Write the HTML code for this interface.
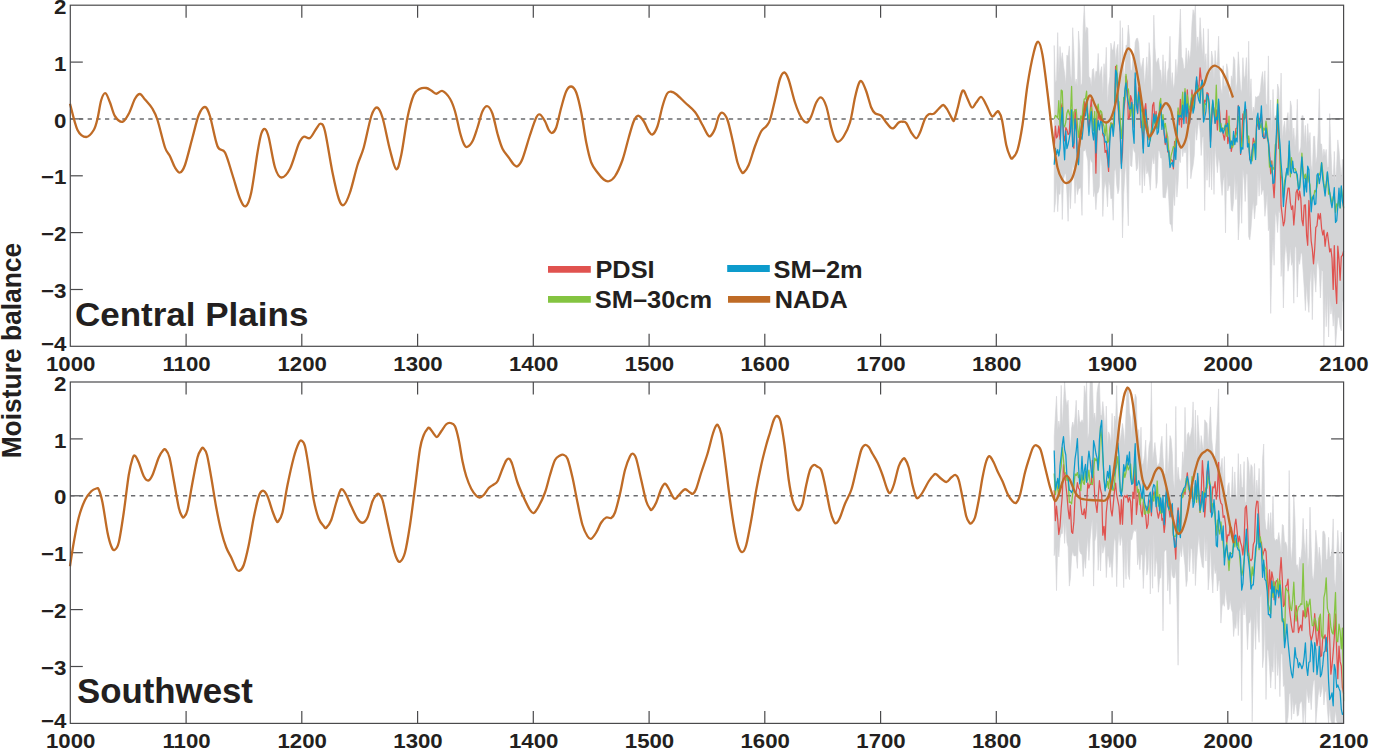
<!DOCTYPE html>
<html><head><meta charset="utf-8"><title>Moisture balance</title>
<style>html,body{margin:0;padding:0;background:#fff;overflow:hidden}body{width:1400px;height:749px}svg{display:block}</style></head>
<body>
<svg width="1400" height="749" viewBox="0 0 1400 749">
<style>text{font-family:"Liberation Sans",sans-serif;font-weight:bold;fill:#231f20}.tk{font-size:20.5px}.lg{font-size:24px}.ti{font-size:34px}.yl{font-size:26.4px}</style>
<rect width="1400" height="749" fill="#fff"/>
<line x1="186.1" y1="346.3" x2="186.1" y2="333.8" stroke="#4a4a4c" stroke-width="1.2"/>
<line x1="186.1" y1="5.2" x2="186.1" y2="17.7" stroke="#4a4a4c" stroke-width="1.2"/>
<line x1="301.8" y1="346.3" x2="301.8" y2="333.8" stroke="#4a4a4c" stroke-width="1.2"/>
<line x1="301.8" y1="5.2" x2="301.8" y2="17.7" stroke="#4a4a4c" stroke-width="1.2"/>
<line x1="417.6" y1="346.3" x2="417.6" y2="333.8" stroke="#4a4a4c" stroke-width="1.2"/>
<line x1="417.6" y1="5.2" x2="417.6" y2="17.7" stroke="#4a4a4c" stroke-width="1.2"/>
<line x1="533.3" y1="346.3" x2="533.3" y2="333.8" stroke="#4a4a4c" stroke-width="1.2"/>
<line x1="533.3" y1="5.2" x2="533.3" y2="17.7" stroke="#4a4a4c" stroke-width="1.2"/>
<line x1="649.1" y1="346.3" x2="649.1" y2="333.8" stroke="#4a4a4c" stroke-width="1.2"/>
<line x1="649.1" y1="5.2" x2="649.1" y2="17.7" stroke="#4a4a4c" stroke-width="1.2"/>
<line x1="764.8" y1="346.3" x2="764.8" y2="333.8" stroke="#4a4a4c" stroke-width="1.2"/>
<line x1="764.8" y1="5.2" x2="764.8" y2="17.7" stroke="#4a4a4c" stroke-width="1.2"/>
<line x1="880.6" y1="346.3" x2="880.6" y2="333.8" stroke="#4a4a4c" stroke-width="1.2"/>
<line x1="880.6" y1="5.2" x2="880.6" y2="17.7" stroke="#4a4a4c" stroke-width="1.2"/>
<line x1="996.3" y1="346.3" x2="996.3" y2="333.8" stroke="#4a4a4c" stroke-width="1.2"/>
<line x1="996.3" y1="5.2" x2="996.3" y2="17.7" stroke="#4a4a4c" stroke-width="1.2"/>
<line x1="1112.1" y1="346.3" x2="1112.1" y2="333.8" stroke="#4a4a4c" stroke-width="1.2"/>
<line x1="1112.1" y1="5.2" x2="1112.1" y2="17.7" stroke="#4a4a4c" stroke-width="1.2"/>
<line x1="1227.8" y1="346.3" x2="1227.8" y2="333.8" stroke="#4a4a4c" stroke-width="1.2"/>
<line x1="1227.8" y1="5.2" x2="1227.8" y2="17.7" stroke="#4a4a4c" stroke-width="1.2"/>
<line x1="70.3" y1="289.5" x2="82.8" y2="289.5" stroke="#4a4a4c" stroke-width="1.2"/>
<line x1="1343.6" y1="289.5" x2="1331.1" y2="289.5" stroke="#4a4a4c" stroke-width="1.2"/>
<line x1="70.3" y1="232.6" x2="82.8" y2="232.6" stroke="#4a4a4c" stroke-width="1.2"/>
<line x1="1343.6" y1="232.6" x2="1331.1" y2="232.6" stroke="#4a4a4c" stroke-width="1.2"/>
<line x1="70.3" y1="175.8" x2="82.8" y2="175.8" stroke="#4a4a4c" stroke-width="1.2"/>
<line x1="1343.6" y1="175.8" x2="1331.1" y2="175.8" stroke="#4a4a4c" stroke-width="1.2"/>
<line x1="70.3" y1="118.9" x2="82.8" y2="118.9" stroke="#4a4a4c" stroke-width="1.2"/>
<line x1="1343.6" y1="118.9" x2="1331.1" y2="118.9" stroke="#4a4a4c" stroke-width="1.2"/>
<line x1="70.3" y1="62.1" x2="82.8" y2="62.1" stroke="#4a4a4c" stroke-width="1.2"/>
<line x1="1343.6" y1="62.1" x2="1331.1" y2="62.1" stroke="#4a4a4c" stroke-width="1.2"/>
<path d="M1054.2,45.5 L1055.4,82.9 L1056.5,79.7 L1057.7,32.6 L1058.8,74.3 L1060.0,46.5 L1061.2,61.9 L1062.3,52.7 L1063.5,65.6 L1064.6,73.1 L1065.8,84.6 L1066.9,55.1 L1068.1,56.5 L1069.3,45.9 L1070.4,73.3 L1071.6,81.9 L1072.7,27.7 L1073.9,51.9 L1075.0,84.8 L1076.2,79.0 L1077.4,87.2 L1078.5,31.1 L1079.7,47.4 L1080.8,85.8 L1082.0,83.2 L1083.2,26.6 L1084.3,5.2 L1085.5,34.1 L1086.6,27.2 L1087.8,28.2 L1088.9,76.3 L1090.1,78.0 L1091.3,86.7 L1092.4,69.6 L1093.6,68.4 L1094.7,82.0 L1095.9,71.2 L1097.0,72.0 L1098.2,53.4 L1099.4,77.4 L1100.5,71.7 L1101.7,66.6 L1102.8,94.8 L1104.0,63.7 L1105.1,75.8 L1106.3,47.3 L1107.5,105.4 L1108.6,86.2 L1109.8,76.6 L1110.9,43.1 L1112.1,50.3 L1113.2,49.5 L1114.4,41.4 L1115.6,61.7 L1116.7,49.3 L1117.9,44.3 L1119.0,75.4 L1120.2,20.6 L1121.4,81.2 L1122.5,27.7 L1123.7,77.7 L1124.8,72.6 L1126.0,45.5 L1127.1,44.4 L1128.3,25.0 L1129.5,38.2 L1130.6,69.6 L1131.8,71.0 L1132.9,57.0 L1134.1,62.9 L1135.2,42.3 L1136.4,38.6 L1137.6,38.2 L1138.7,43.2 L1139.9,61.3 L1141.0,69.5 L1142.2,63.8 L1143.3,58.0 L1144.5,85.6 L1145.7,72.9 L1146.8,56.9 L1148.0,78.1 L1149.1,42.6 L1150.3,58.2 L1151.4,93.6 L1152.6,88.2 L1153.8,15.2 L1154.9,47.1 L1156.1,63.4 L1157.2,61.0 L1158.4,57.9 L1159.6,69.2 L1160.7,70.4 L1161.9,84.9 L1163.0,54.8 L1164.2,82.3 L1165.3,61.3 L1166.5,89.0 L1167.7,71.3 L1168.8,67.2 L1170.0,36.3 L1171.1,86.5 L1172.3,72.6 L1173.4,89.1 L1174.6,83.0 L1175.8,59.4 L1176.9,76.8 L1178.1,60.8 L1179.2,36.7 L1180.4,9.0 L1181.5,56.6 L1182.7,59.3 L1183.9,69.1 L1185.0,67.9 L1186.2,47.9 L1187.3,65.5 L1188.5,50.6 L1189.6,61.1 L1190.8,50.0 L1192.0,23.2 L1193.1,9.7 L1194.3,15.7 L1195.4,5.2 L1196.6,51.9 L1197.7,36.9 L1198.9,48.1 L1200.1,17.7 L1201.2,36.6 L1202.4,57.6 L1203.5,28.4 L1204.7,63.1 L1205.9,53.7 L1207.0,76.6 L1208.2,28.8 L1209.3,72.4 L1210.5,71.7 L1211.6,51.0 L1212.8,58.5 L1214.0,79.7 L1215.1,50.5 L1216.3,66.3 L1217.4,61.3 L1218.6,36.2 L1219.7,74.1 L1220.9,88.5 L1222.1,93.9 L1223.2,65.7 L1224.4,86.3 L1225.5,86.2 L1226.7,63.8 L1227.8,69.5 L1229.0,92.5 L1230.2,99.6 L1231.3,75.8 L1232.5,80.4 L1233.6,56.7 L1234.8,60.2 L1235.9,92.8 L1237.1,82.1 L1238.3,51.8 L1239.4,69.4 L1240.6,89.0 L1241.7,92.4 L1242.9,57.7 L1244.1,79.6 L1245.2,75.3 L1246.4,57.6 L1247.5,94.3 L1248.7,41.2 L1249.8,97.9 L1251.0,78.8 L1252.2,115.4 L1253.3,107.0 L1254.5,111.2 L1255.6,96.6 L1256.8,97.5 L1257.9,96.2 L1259.1,96.1 L1260.3,91.3 L1261.4,78.9 L1262.6,71.6 L1263.7,89.3 L1264.9,70.8 L1266.0,103.3 L1267.2,105.6 L1268.4,55.9 L1269.5,124.1 L1270.7,99.9 L1271.8,133.0 L1273.0,89.4 L1274.1,118.4 L1275.3,116.3 L1276.5,114.8 L1277.6,84.0 L1278.8,89.0 L1279.9,115.7 L1281.1,73.0 L1282.3,139.5 L1283.4,128.1 L1284.6,121.1 L1285.7,135.9 L1286.9,118.3 L1288.0,112.5 L1289.2,133.2 L1290.4,100.9 L1291.5,106.4 L1292.7,140.4 L1293.8,128.0 L1295.0,147.1 L1296.1,134.4 L1297.3,99.3 L1298.5,153.6 L1299.6,151.6 L1300.8,147.1 L1301.9,115.8 L1303.1,115.7 L1304.2,142.0 L1305.4,125.4 L1306.6,148.3 L1307.7,123.6 L1308.9,142.5 L1310.0,132.5 L1311.2,165.0 L1312.3,172.2 L1313.5,136.4 L1314.7,136.3 L1315.8,163.5 L1317.0,156.2 L1318.1,133.6 L1319.3,88.8 L1320.4,143.3 L1321.6,144.2 L1322.8,158.5 L1323.9,149.1 L1325.1,156.1 L1326.2,149.4 L1327.4,167.4 L1328.6,166.7 L1329.7,113.6 L1330.9,151.0 L1332.0,173.3 L1333.2,179.7 L1334.3,151.4 L1335.5,183.8 L1336.7,164.8 L1337.8,139.9 L1339.0,150.6 L1340.1,164.4 L1341.3,178.5 L1342.4,159.3 L1343.6,176.9 L1343.6,301.7 L1342.4,301.3 L1341.3,330.8 L1340.1,326.7 L1339.0,317.3 L1337.8,317.4 L1336.7,330.5 L1335.5,346.3 L1334.3,311.2 L1333.2,326.1 L1332.0,304.9 L1330.9,314.1 L1329.7,296.1 L1328.6,337.0 L1327.4,292.8 L1326.2,326.7 L1325.1,294.7 L1323.9,346.3 L1322.8,271.4 L1321.6,270.2 L1320.4,298.0 L1319.3,271.0 L1318.1,259.9 L1317.0,265.1 L1315.8,292.1 L1314.7,278.4 L1313.5,270.2 L1312.3,319.7 L1311.2,268.8 L1310.0,282.8 L1308.9,312.4 L1307.7,300.3 L1306.6,284.7 L1305.4,310.6 L1304.2,287.5 L1303.1,270.9 L1301.9,252.8 L1300.8,253.7 L1299.6,264.3 L1298.5,259.4 L1297.3,297.1 L1296.1,247.8 L1295.0,246.2 L1293.8,303.2 L1292.7,261.2 L1291.5,265.3 L1290.4,246.6 L1289.2,263.2 L1288.0,271.2 L1286.9,253.4 L1285.7,243.2 L1284.6,259.4 L1283.4,308.0 L1282.3,255.0 L1281.1,276.4 L1279.9,213.2 L1278.8,210.8 L1277.6,232.5 L1276.5,217.4 L1275.3,211.8 L1274.1,265.3 L1273.0,238.0 L1271.8,265.7 L1270.7,313.4 L1269.5,227.7 L1268.4,230.7 L1267.2,193.2 L1266.0,206.4 L1264.9,216.3 L1263.7,190.2 L1262.6,190.0 L1261.4,194.6 L1260.3,173.1 L1259.1,196.2 L1257.9,173.4 L1256.8,204.5 L1255.6,206.3 L1254.5,218.9 L1253.3,201.0 L1252.2,210.7 L1251.0,228.3 L1249.8,239.8 L1248.7,236.4 L1247.5,174.8 L1246.4,173.6 L1245.2,201.5 L1244.1,180.0 L1242.9,168.4 L1241.7,223.3 L1240.6,184.9 L1239.4,220.3 L1238.3,240.0 L1237.1,181.1 L1235.9,199.5 L1234.8,172.9 L1233.6,201.3 L1232.5,211.3 L1231.3,210.1 L1230.2,185.9 L1229.0,185.6 L1227.8,190.9 L1226.7,169.7 L1225.5,232.9 L1224.4,175.9 L1223.2,180.8 L1222.1,195.4 L1220.9,182.3 L1219.7,163.1 L1218.6,157.3 L1217.4,172.7 L1216.3,159.6 L1215.1,145.2 L1214.0,194.4 L1212.8,147.3 L1211.6,189.8 L1210.5,151.8 L1209.3,187.3 L1208.2,152.9 L1207.0,180.3 L1205.9,148.6 L1204.7,210.6 L1203.5,136.7 L1202.4,137.3 L1201.2,155.5 L1200.1,132.0 L1198.9,118.9 L1197.7,129.2 L1196.6,140.2 L1195.4,125.6 L1194.3,155.2 L1193.1,165.4 L1192.0,170.7 L1190.8,178.7 L1189.6,141.1 L1188.5,136.6 L1187.3,188.6 L1186.2,148.6 L1185.0,153.1 L1183.9,148.5 L1182.7,156.6 L1181.5,141.2 L1180.4,162.6 L1179.2,159.5 L1178.1,182.3 L1176.9,197.1 L1175.8,174.0 L1174.6,205.6 L1173.4,192.6 L1172.3,231.6 L1171.1,224.5 L1170.0,224.0 L1168.8,199.8 L1167.7,182.8 L1166.5,190.1 L1165.3,198.0 L1164.2,197.5 L1163.0,197.6 L1161.9,158.2 L1160.7,158.0 L1159.6,151.4 L1158.4,150.4 L1157.2,182.5 L1156.1,188.3 L1154.9,153.1 L1153.8,163.9 L1152.6,156.3 L1151.4,169.3 L1150.3,190.2 L1149.1,177.3 L1148.0,170.3 L1146.8,173.8 L1145.7,161.1 L1144.5,185.8 L1143.3,162.9 L1142.2,193.1 L1141.0,150.8 L1139.9,185.4 L1138.7,153.4 L1137.6,167.9 L1136.4,170.8 L1135.2,153.1 L1134.1,151.1 L1132.9,146.3 L1131.8,166.7 L1130.6,165.8 L1129.5,144.1 L1128.3,225.8 L1127.1,193.6 L1126.0,157.3 L1124.8,175.7 L1123.7,194.7 L1122.5,237.9 L1121.4,172.9 L1120.2,160.6 L1119.0,189.5 L1117.9,193.8 L1116.7,185.1 L1115.6,168.3 L1114.4,171.6 L1113.2,220.3 L1112.1,198.1 L1110.9,198.8 L1109.8,185.5 L1108.6,180.8 L1107.5,206.8 L1106.3,187.9 L1105.1,180.5 L1104.0,190.0 L1102.8,216.5 L1101.7,166.4 L1100.5,155.3 L1099.4,186.5 L1098.2,192.4 L1097.0,193.5 L1095.9,209.7 L1094.7,189.9 L1093.6,196.6 L1092.4,163.0 L1091.3,161.3 L1090.1,158.0 L1088.9,194.7 L1087.8,160.9 L1086.6,155.0 L1085.5,148.5 L1084.3,151.0 L1083.2,151.3 L1082.0,215.4 L1080.8,187.6 L1079.7,188.0 L1078.5,189.5 L1077.4,194.6 L1076.2,181.2 L1075.0,203.4 L1073.9,168.4 L1072.7,163.6 L1071.6,183.0 L1070.4,208.7 L1069.3,181.6 L1068.1,221.3 L1066.9,193.5 L1065.8,173.0 L1064.6,175.0 L1063.5,179.3 L1062.3,219.5 L1061.2,171.2 L1060.0,194.4 L1058.8,193.5 L1057.7,211.7 L1056.5,181.0 L1055.4,202.7 L1054.2,212.2Z" fill="#d3d4d6" stroke="#d3d4d6" stroke-width="0.6" stroke-linejoin="miter"/>
<line x1="70.3" y1="118.9" x2="1343.6" y2="118.9" stroke="#6a6b6e" stroke-width="1.5" stroke-dasharray="4.3,4.365"/>
<path d="M1054.2,148.2 L1055.4,126.2 L1056.5,137.9 L1057.7,135.9 L1058.8,126.0 L1060.0,139.1 L1061.2,107.2 L1062.3,103.3 L1063.5,135.3 L1064.6,140.9 L1065.8,127.6 L1066.9,129.7 L1068.1,134.5 L1069.3,133.5 L1070.4,110.8 L1071.6,112.5 L1072.7,145.4 L1073.9,148.2 L1075.0,109.5 L1076.2,120.4 L1077.4,155.7 L1078.5,162.5 L1079.7,130.5 L1080.8,132.7 L1082.0,120.8 L1083.2,112.0 L1084.3,101.6 L1085.5,110.9 L1086.6,101.2 L1087.8,119.0 L1088.9,131.7 L1090.1,111.3 L1091.3,99.2 L1092.4,119.4 L1093.6,129.3 L1094.7,119.8 L1095.9,173.2 L1097.0,133.1 L1098.2,114.3 L1099.4,118.5 L1100.5,120.3 L1101.7,114.0 L1102.8,134.8 L1104.0,137.2 L1105.1,152.4 L1106.3,150.4 L1107.5,158.8 L1108.6,171.4 L1109.8,129.9 L1110.9,123.2 L1112.1,123.4 L1113.2,128.5 L1114.4,115.4 L1115.6,66.3 L1116.7,75.2 L1117.9,103.2 L1119.0,119.6 L1120.2,131.6 L1121.4,163.9 L1122.5,152.6 L1123.7,110.9 L1124.8,101.4 L1126.0,76.3 L1127.1,81.6 L1128.3,119.1 L1129.5,117.2 L1130.6,95.6 L1131.8,99.8 L1132.9,112.4 L1134.1,127.3 L1135.2,79.0 L1136.4,100.0 L1137.6,113.6 L1138.7,87.6 L1139.9,101.1 L1141.0,127.7 L1142.2,121.4 L1143.3,148.5 L1144.5,110.3 L1145.7,103.6 L1146.8,119.9 L1148.0,128.2 L1149.1,139.6 L1150.3,134.8 L1151.4,131.2 L1152.6,105.4 L1153.8,102.5 L1154.9,121.7 L1156.1,111.3 L1157.2,126.9 L1158.4,128.7 L1159.6,113.0 L1160.7,105.0 L1161.9,123.7 L1163.0,117.9 L1164.2,134.5 L1165.3,144.5 L1166.5,131.5 L1167.7,152.0 L1168.8,150.5 L1170.0,160.8 L1171.1,159.7 L1172.3,160.3 L1173.4,168.8 L1174.6,141.4 L1175.8,151.6 L1176.9,130.1 L1178.1,111.4 L1179.2,124.8 L1180.4,99.3 L1181.5,127.1 L1182.7,106.7 L1183.9,117.1 L1185.0,91.4 L1186.2,123.2 L1187.3,89.8 L1188.5,111.6 L1189.6,123.5 L1190.8,109.3 L1192.0,90.0 L1193.1,105.9 L1194.3,107.4 L1195.4,91.0 L1196.6,79.5 L1197.7,85.8 L1198.9,88.1 L1200.1,67.9 L1201.2,80.0 L1202.4,83.1 L1203.5,118.3 L1204.7,100.2 L1205.9,101.4 L1207.0,92.6 L1208.2,93.8 L1209.3,110.4 L1210.5,141.7 L1211.6,122.2 L1212.8,103.5 L1214.0,109.4 L1215.1,123.1 L1216.3,109.8 L1217.4,130.0 L1218.6,101.4 L1219.7,112.4 L1220.9,129.3 L1222.1,128.2 L1223.2,134.4 L1224.4,140.2 L1225.5,131.9 L1226.7,110.3 L1227.8,143.6 L1229.0,137.3 L1230.2,140.8 L1231.3,151.4 L1232.5,144.4 L1233.6,140.3 L1234.8,141.3 L1235.9,128.5 L1237.1,128.0 L1238.3,105.5 L1239.4,111.5 L1240.6,154.4 L1241.7,137.9 L1242.9,113.9 L1244.1,119.3 L1245.2,117.9 L1246.4,109.6 L1247.5,137.7 L1248.7,138.0 L1249.8,159.5 L1251.0,161.2 L1252.2,151.0 L1253.3,138.2 L1254.5,142.5 L1255.6,148.9 L1256.8,119.3 L1257.9,125.5 L1259.1,129.3 L1260.3,117.3 L1261.4,113.6 L1262.6,127.8 L1263.7,138.5 L1264.9,138.1 L1266.0,127.5 L1267.2,138.1 L1268.4,141.7 L1269.5,152.1 L1270.7,173.8 L1271.8,160.9 L1273.0,183.1 L1274.1,197.6 L1275.3,173.9 L1276.5,136.6 L1277.6,115.1 L1278.8,148.6 L1279.9,149.4 L1281.1,205.9 L1282.3,216.0 L1283.4,225.8 L1284.6,221.4 L1285.7,206.0 L1286.9,196.3 L1288.0,188.1 L1289.2,188.1 L1290.4,203.0 L1291.5,209.5 L1292.7,205.8 L1293.8,225.0 L1295.0,210.1 L1296.1,192.5 L1297.3,189.4 L1298.5,199.8 L1299.6,191.0 L1300.8,198.3 L1301.9,219.9 L1303.1,225.6 L1304.2,205.4 L1305.4,204.8 L1306.6,235.1 L1307.7,245.3 L1308.9,200.5 L1310.0,218.7 L1311.2,241.1 L1312.3,248.8 L1313.5,263.8 L1314.7,249.0 L1315.8,227.4 L1317.0,225.8 L1318.1,213.7 L1319.3,219.1 L1320.4,213.5 L1321.6,228.5 L1322.8,235.0 L1323.9,230.1 L1325.1,246.3 L1326.2,236.5 L1327.4,232.5 L1328.6,242.5 L1329.7,251.9 L1330.9,248.7 L1332.0,258.1 L1333.2,289.4 L1334.3,245.6 L1335.5,284.3 L1336.7,303.5 L1337.8,246.2 L1339.0,259.4 L1340.1,280.3 L1341.3,256.7 L1342.4,255.3 L1343.6,250.9" fill="none" stroke="#e0524f" stroke-width="1.25" stroke-linejoin="round"/>
<path d="M1054.2,118.9 L1055.4,115.4 L1056.5,116.3 L1057.7,118.2 L1058.8,100.7 L1060.0,125.5 L1061.2,90.1 L1062.3,90.9 L1063.5,125.2 L1064.6,126.8 L1065.8,122.0 L1066.9,113.3 L1068.1,109.7 L1069.3,113.9 L1070.4,116.0 L1071.6,86.4 L1072.7,129.1 L1073.9,111.9 L1075.0,110.8 L1076.2,109.3 L1077.4,124.5 L1078.5,137.3 L1079.7,127.3 L1080.8,115.8 L1082.0,119.0 L1083.2,105.4 L1084.3,98.8 L1085.5,98.9 L1086.6,91.2 L1087.8,113.2 L1088.9,119.0 L1090.1,117.1 L1091.3,107.2 L1092.4,115.4 L1093.6,130.6 L1094.7,111.4 L1095.9,141.8 L1097.0,110.3 L1098.2,104.2 L1099.4,116.3 L1100.5,110.5 L1101.7,112.2 L1102.8,122.8 L1104.0,126.2 L1105.1,135.8 L1106.3,122.8 L1107.5,142.7 L1108.6,141.1 L1109.8,131.0 L1110.9,122.8 L1112.1,125.0 L1113.2,128.0 L1114.4,110.7 L1115.6,82.9 L1116.7,65.1 L1117.9,100.1 L1119.0,101.9 L1120.2,119.7 L1121.4,138.4 L1122.5,125.7 L1123.7,97.5 L1124.8,99.9 L1126.0,74.4 L1127.1,89.0 L1128.3,88.9 L1129.5,100.1 L1130.6,116.2 L1131.8,106.6 L1132.9,104.6 L1134.1,123.2 L1135.2,86.7 L1136.4,99.4 L1137.6,103.0 L1138.7,92.8 L1139.9,98.9 L1141.0,108.3 L1142.2,113.4 L1143.3,131.2 L1144.5,116.6 L1145.7,115.4 L1146.8,122.2 L1148.0,130.1 L1149.1,137.8 L1150.3,140.8 L1151.4,130.5 L1152.6,126.2 L1153.8,117.0 L1154.9,124.1 L1156.1,114.5 L1157.2,128.0 L1158.4,127.8 L1159.6,103.2 L1160.7,98.3 L1161.9,125.3 L1163.0,114.6 L1164.2,128.3 L1165.3,123.3 L1166.5,132.0 L1167.7,137.0 L1168.8,151.0 L1170.0,164.4 L1171.1,155.7 L1172.3,151.2 L1173.4,146.5 L1174.6,148.6 L1175.8,138.8 L1176.9,137.1 L1178.1,107.9 L1179.2,117.0 L1180.4,114.9 L1181.5,108.2 L1182.7,92.2 L1183.9,118.9 L1185.0,88.6 L1186.2,110.5 L1187.3,94.9 L1188.5,105.5 L1189.6,109.8 L1190.8,101.5 L1192.0,94.5 L1193.1,111.0 L1194.3,96.5 L1195.4,95.2 L1196.6,85.4 L1197.7,85.6 L1198.9,90.8 L1200.1,99.8 L1201.2,85.7 L1202.4,87.6 L1203.5,115.5 L1204.7,103.8 L1205.9,104.6 L1207.0,96.7 L1208.2,100.6 L1209.3,110.0 L1210.5,131.2 L1211.6,110.7 L1212.8,101.7 L1214.0,111.9 L1215.1,118.0 L1216.3,85.1 L1217.4,118.5 L1218.6,113.1 L1219.7,131.3 L1220.9,123.4 L1222.1,131.2 L1223.2,128.8 L1224.4,127.6 L1225.5,123.8 L1226.7,136.3 L1227.8,133.9 L1229.0,116.2 L1230.2,141.5 L1231.3,145.9 L1232.5,147.6 L1233.6,144.1 L1234.8,135.7 L1235.9,135.3 L1237.1,131.0 L1238.3,116.1 L1239.4,119.5 L1240.6,142.4 L1241.7,149.1 L1242.9,131.6 L1244.1,111.4 L1245.2,110.2 L1246.4,119.1 L1247.5,138.7 L1248.7,136.0 L1249.8,156.9 L1251.0,157.6 L1252.2,160.8 L1253.3,149.9 L1254.5,141.9 L1255.6,157.6 L1256.8,118.8 L1257.9,123.7 L1259.1,121.3 L1260.3,127.8 L1261.4,123.6 L1262.6,134.3 L1263.7,128.2 L1264.9,130.3 L1266.0,121.1 L1267.2,130.3 L1268.4,143.5 L1269.5,167.2 L1270.7,161.3 L1271.8,172.3 L1273.0,167.6 L1274.1,169.4 L1275.3,144.6 L1276.5,143.1 L1277.6,99.7 L1278.8,132.1 L1279.9,152.9 L1281.1,174.7 L1282.3,181.1 L1283.4,197.3 L1284.6,180.9 L1285.7,176.3 L1286.9,169.7 L1288.0,167.2 L1289.2,145.1 L1290.4,176.8 L1291.5,157.7 L1292.7,167.8 L1293.8,168.7 L1295.0,168.6 L1296.1,171.2 L1297.3,179.3 L1298.5,187.4 L1299.6,188.1 L1300.8,175.6 L1301.9,153.2 L1303.1,171.0 L1304.2,178.7 L1305.4,174.2 L1306.6,182.7 L1307.7,171.1 L1308.9,181.0 L1310.0,184.8 L1311.2,202.8 L1312.3,196.9 L1313.5,198.9 L1314.7,190.5 L1315.8,191.9 L1317.0,186.4 L1318.1,176.2 L1319.3,174.9 L1320.4,172.0 L1321.6,162.5 L1322.8,172.0 L1323.9,184.2 L1325.1,190.1 L1326.2,183.9 L1327.4,172.3 L1328.6,194.2 L1329.7,192.4 L1330.9,197.9 L1332.0,204.2 L1333.2,196.7 L1334.3,194.6 L1335.5,212.5 L1336.7,203.8 L1337.8,206.2 L1339.0,198.9 L1340.1,208.0 L1341.3,187.4 L1342.4,195.5 L1343.6,208.2" fill="none" stroke="#84c441" stroke-width="1.25" stroke-linejoin="round"/>
<path d="M1054.2,164.7 L1055.4,148.4 L1056.5,154.7 L1057.7,149.7 L1058.8,156.0 L1060.0,148.1 L1061.2,121.6 L1062.3,107.5 L1063.5,142.5 L1064.6,159.8 L1065.8,131.0 L1066.9,148.7 L1068.1,144.3 L1069.3,138.3 L1070.4,131.6 L1071.6,109.9 L1072.7,146.7 L1073.9,142.5 L1075.0,118.9 L1076.2,132.0 L1077.4,158.4 L1078.5,164.6 L1079.7,139.5 L1080.8,136.4 L1082.0,139.3 L1083.2,127.4 L1084.3,113.3 L1085.5,115.9 L1086.6,99.6 L1087.8,119.6 L1088.9,135.5 L1090.1,122.0 L1091.3,111.6 L1092.4,131.9 L1093.6,139.9 L1094.7,119.0 L1095.9,152.9 L1097.0,131.2 L1098.2,120.7 L1099.4,129.8 L1100.5,121.4 L1101.7,122.1 L1102.8,132.8 L1104.0,134.3 L1105.1,142.1 L1106.3,141.4 L1107.5,151.9 L1108.6,167.1 L1109.8,141.8 L1110.9,127.9 L1112.1,124.5 L1113.2,136.3 L1114.4,123.2 L1115.6,70.1 L1116.7,72.9 L1117.9,97.3 L1119.0,118.3 L1120.2,131.6 L1121.4,168.3 L1122.5,139.8 L1123.7,109.6 L1124.8,90.9 L1126.0,82.8 L1127.1,95.9 L1128.3,102.5 L1129.5,108.9 L1130.6,108.6 L1131.8,102.4 L1132.9,130.0 L1134.1,143.3 L1135.2,72.8 L1136.4,105.0 L1137.6,113.0 L1138.7,92.0 L1139.9,100.5 L1141.0,119.4 L1142.2,133.4 L1143.3,152.9 L1144.5,116.8 L1145.7,109.5 L1146.8,123.4 L1148.0,146.4 L1149.1,146.3 L1150.3,138.5 L1151.4,133.0 L1152.6,128.3 L1153.8,113.9 L1154.9,123.0 L1156.1,114.9 L1157.2,134.3 L1158.4,132.0 L1159.6,112.4 L1160.7,103.8 L1161.9,129.4 L1163.0,119.8 L1164.2,132.7 L1165.3,142.7 L1166.5,138.5 L1167.7,150.3 L1168.8,152.4 L1170.0,167.5 L1171.1,163.9 L1172.3,162.4 L1173.4,166.9 L1174.6,147.9 L1175.8,159.5 L1176.9,136.1 L1178.1,115.1 L1179.2,116.8 L1180.4,115.5 L1181.5,117.4 L1182.7,105.1 L1183.9,123.6 L1185.0,92.7 L1186.2,116.4 L1187.3,103.8 L1188.5,124.6 L1189.6,122.4 L1190.8,104.6 L1192.0,97.9 L1193.1,113.2 L1194.3,107.6 L1195.4,92.4 L1196.6,76.9 L1197.7,94.7 L1198.9,100.6 L1200.1,103.3 L1201.2,85.0 L1202.4,80.2 L1203.5,122.1 L1204.7,117.7 L1205.9,111.3 L1207.0,94.3 L1208.2,96.5 L1209.3,103.7 L1210.5,147.3 L1211.6,119.4 L1212.8,100.0 L1214.0,113.0 L1215.1,123.4 L1216.3,117.2 L1217.4,119.8 L1218.6,99.1 L1219.7,121.7 L1220.9,131.9 L1222.1,128.0 L1223.2,133.2 L1224.4,129.8 L1225.5,125.4 L1226.7,126.6 L1227.8,123.3 L1229.0,134.7 L1230.2,148.4 L1231.3,140.9 L1232.5,145.1 L1233.6,131.3 L1234.8,144.7 L1235.9,138.1 L1237.1,142.0 L1238.3,106.1 L1239.4,107.4 L1240.6,153.3 L1241.7,147.6 L1242.9,149.0 L1244.1,116.1 L1245.2,101.8 L1246.4,119.3 L1247.5,147.1 L1248.7,143.7 L1249.8,158.9 L1251.0,163.8 L1252.2,150.3 L1253.3,144.5 L1254.5,143.7 L1255.6,159.5 L1256.8,118.3 L1257.9,113.2 L1259.1,129.5 L1260.3,121.5 L1261.4,105.9 L1262.6,136.5 L1263.7,137.6 L1264.9,138.0 L1266.0,128.0 L1267.2,136.4 L1268.4,141.8 L1269.5,156.9 L1270.7,166.5 L1271.8,165.1 L1273.0,183.4 L1274.1,182.8 L1275.3,157.8 L1276.5,131.3 L1277.6,104.0 L1278.8,130.9 L1279.9,143.2 L1281.1,163.5 L1282.3,177.9 L1283.4,206.5 L1284.6,188.7 L1285.7,178.2 L1286.9,168.3 L1288.0,175.0 L1289.2,141.0 L1290.4,171.2 L1291.5,173.3 L1292.7,161.2 L1293.8,172.2 L1295.0,172.9 L1296.1,171.7 L1297.3,175.0 L1298.5,189.9 L1299.6,187.2 L1300.8,171.4 L1301.9,157.0 L1303.1,177.1 L1304.2,195.9 L1305.4,178.5 L1306.6,192.0 L1307.7,166.1 L1308.9,169.8 L1310.0,192.6 L1311.2,211.8 L1312.3,199.1 L1313.5,195.1 L1314.7,204.7 L1315.8,203.7 L1317.0,175.1 L1318.1,173.4 L1319.3,183.6 L1320.4,176.9 L1321.6,162.9 L1322.8,179.5 L1323.9,186.5 L1325.1,196.0 L1326.2,184.5 L1327.4,171.9 L1328.6,183.8 L1329.7,192.4 L1330.9,202.0 L1332.0,207.6 L1333.2,199.1 L1334.3,187.6 L1335.5,222.5 L1336.7,220.7 L1337.8,206.2 L1339.0,188.1 L1340.1,207.8 L1341.3,185.9 L1342.4,201.1 L1343.6,207.4" fill="none" stroke="#0d9bcc" stroke-width="1.25" stroke-linejoin="round"/>
<path d="M70.00,103.75C71.25,108.12 74.79,124.46 77.50,130.00C80.21,135.54 83.54,137.00 86.25,137.00C88.96,137.00 91.88,133.04 93.75,130.00C95.62,126.96 96.25,123.75 97.50,118.75C98.75,113.75 99.92,104.25 101.25,100.00C102.58,95.75 104.04,92.83 105.50,93.25C106.96,93.67 108.42,98.67 110.00,102.50C111.58,106.33 112.92,113.04 115.00,116.25C117.08,119.46 120.21,122.17 122.50,121.75C124.79,121.33 126.67,117.58 128.75,113.75C130.83,109.92 133.12,102.04 135.00,98.75C136.88,95.46 138.33,93.88 140.00,94.00C141.67,94.12 142.92,97.04 145.00,99.50C147.08,101.96 150.42,105.33 152.50,108.75C154.58,112.17 155.42,113.54 157.50,120.00C159.58,126.46 162.92,141.46 165.00,147.50C167.08,153.54 168.33,152.92 170.00,156.25C171.67,159.58 173.33,164.79 175.00,167.50C176.67,170.21 178.33,172.92 180.00,172.50C181.67,172.08 182.92,170.83 185.00,165.00C187.08,159.17 190.21,145.83 192.50,137.50C194.79,129.17 196.67,120.08 198.75,115.00C200.83,109.92 203.12,106.79 205.00,107.00C206.88,107.21 207.92,109.71 210.00,116.25C212.08,122.79 215.00,140.21 217.50,146.25C220.00,152.29 222.50,147.71 225.00,152.50C227.50,157.29 230.00,167.29 232.50,175.00C235.00,182.71 237.79,193.54 240.00,198.75C242.21,203.96 243.88,207.29 245.75,206.25C247.62,205.21 249.29,201.46 251.25,192.50C253.21,183.54 255.83,162.29 257.50,152.50C259.17,142.71 260.00,137.67 261.25,133.75C262.50,129.83 263.75,128.38 265.00,129.00C266.25,129.62 267.08,131.08 268.75,137.50C270.42,143.92 272.92,160.83 275.00,167.50C277.08,174.17 278.75,177.29 281.25,177.50C283.75,177.71 287.08,174.38 290.00,168.75C292.92,163.12 296.46,149.08 298.75,143.75C301.04,138.42 301.88,137.71 303.75,136.75C305.62,135.79 307.92,139.33 310.00,138.00C312.08,136.67 314.46,131.12 316.25,128.75C318.04,126.38 319.29,123.33 320.75,123.75C322.21,124.17 323.04,123.12 325.00,131.25C326.96,139.38 330.21,161.25 332.50,172.50C334.79,183.75 336.88,193.33 338.75,198.75C340.62,204.17 341.88,206.04 343.75,205.00C345.62,203.96 347.71,199.17 350.00,192.50C352.29,185.83 355.21,172.50 357.50,165.00C359.79,157.50 361.46,155.62 363.75,147.50C366.04,139.38 369.04,122.92 371.25,116.25C373.46,109.58 375.12,107.29 377.00,107.50C378.88,107.71 380.33,110.42 382.50,117.50C384.67,124.58 387.71,141.38 390.00,150.00C392.29,158.62 394.38,168.42 396.25,169.25C398.12,170.08 399.38,163.62 401.25,155.00C403.12,146.38 405.42,127.50 407.50,117.50C409.58,107.50 411.67,99.79 413.75,95.00C415.83,90.21 417.92,89.92 420.00,88.75C422.08,87.58 424.38,87.71 426.25,88.00C428.12,88.29 429.58,89.54 431.25,90.50C432.92,91.46 434.38,93.67 436.25,93.75C438.12,93.83 440.21,90.17 442.50,91.00C444.79,91.83 447.92,95.38 450.00,98.75C452.08,102.12 453.33,105.62 455.00,111.25C456.67,116.88 458.54,127.08 460.00,132.50C461.46,137.92 462.58,141.33 463.75,143.75C464.92,146.17 465.54,147.42 467.00,147.00C468.46,146.58 470.75,144.50 472.50,141.25C474.25,138.00 475.83,132.50 477.50,127.50C479.17,122.50 480.83,114.79 482.50,111.25C484.17,107.71 485.83,105.83 487.50,106.25C489.17,106.67 490.83,109.17 492.50,113.75C494.17,118.33 495.83,127.92 497.50,133.75C499.17,139.58 500.62,144.79 502.50,148.75C504.38,152.71 506.88,154.88 508.75,157.50C510.62,160.12 512.29,163.04 513.75,164.50C515.21,165.96 516.04,167.21 517.50,166.25C518.96,165.29 520.42,163.96 522.50,158.75C524.58,153.54 527.71,141.88 530.00,135.00C532.29,128.12 534.58,120.92 536.25,117.50C537.92,114.08 538.54,113.88 540.00,114.50C541.46,115.12 543.54,118.67 545.00,121.25C546.46,123.83 547.58,128.04 548.75,130.00C549.92,131.96 550.75,133.42 552.00,133.00C553.25,132.58 554.71,131.75 556.25,127.50C557.79,123.25 559.58,113.54 561.25,107.50C562.92,101.46 564.58,94.75 566.25,91.25C567.92,87.75 569.58,86.29 571.25,86.50C572.92,86.71 574.58,88.17 576.25,92.50C577.92,96.83 579.58,104.17 581.25,112.50C582.92,120.83 584.58,134.17 586.25,142.50C587.92,150.83 589.38,157.50 591.25,162.50C593.12,167.50 595.42,169.67 597.50,172.50C599.58,175.33 601.88,178.04 603.75,179.50C605.62,180.96 606.88,181.79 608.75,181.25C610.62,180.71 612.71,179.79 615.00,176.25C617.29,172.71 620.21,166.46 622.50,160.00C624.79,153.54 626.88,143.96 628.75,137.50C630.62,131.04 632.17,124.88 633.75,121.25C635.33,117.62 636.58,115.75 638.25,115.75C639.92,115.75 642.00,118.67 643.75,121.25C645.50,123.83 647.29,129.04 648.75,131.25C650.21,133.46 651.04,135.33 652.50,134.50C653.96,133.67 655.83,130.96 657.50,126.25C659.17,121.54 660.92,111.67 662.50,106.25C664.08,100.83 665.54,96.17 667.00,93.75C668.46,91.33 669.71,91.67 671.25,91.75C672.79,91.83 673.96,92.46 676.25,94.25C678.54,96.04 681.88,99.54 685.00,102.50C688.12,105.46 692.08,108.25 695.00,112.00C697.92,115.75 700.42,121.25 702.50,125.00C704.58,128.75 706.17,132.67 707.50,134.50C708.83,136.33 709.25,136.96 710.50,136.00C711.75,135.04 713.62,132.04 715.00,128.75C716.38,125.46 717.50,118.92 718.75,116.25C720.00,113.58 721.04,112.12 722.50,112.75C723.96,113.38 725.83,115.46 727.50,120.00C729.17,124.54 730.83,132.92 732.50,140.00C734.17,147.08 736.04,157.29 737.50,162.50C738.96,167.71 740.21,169.58 741.25,171.25C742.29,172.92 742.50,173.54 743.75,172.50C745.00,171.46 746.88,169.38 748.75,165.00C750.62,160.62 752.92,151.88 755.00,146.25C757.08,140.62 759.38,134.58 761.25,131.25C763.12,127.92 764.79,128.12 766.25,126.25C767.71,124.38 768.54,124.38 770.00,120.00C771.46,115.62 773.33,106.88 775.00,100.00C776.67,93.12 778.42,83.33 780.00,78.75C781.58,74.17 783.04,72.29 784.50,72.50C785.96,72.71 787.00,75.00 788.75,80.00C790.50,85.00 792.92,96.25 795.00,102.50C797.08,108.75 799.25,114.17 801.25,117.50C803.25,120.83 805.33,122.71 807.00,122.50C808.67,122.29 809.71,119.58 811.25,116.25C812.79,112.92 814.58,105.62 816.25,102.50C817.92,99.38 819.58,96.88 821.25,97.50C822.92,98.12 824.58,101.25 826.25,106.25C827.92,111.25 829.79,122.08 831.25,127.50C832.71,132.92 833.83,136.38 835.00,138.75C836.17,141.12 836.79,142.17 838.25,141.75C839.71,141.33 841.79,139.46 843.75,136.25C845.71,133.04 848.12,128.96 850.00,122.50C851.88,116.04 853.54,103.96 855.00,97.50C856.46,91.04 857.62,86.42 858.75,83.75C859.88,81.08 860.50,80.25 861.75,81.50C863.00,82.75 864.67,86.92 866.25,91.25C867.83,95.58 869.79,103.83 871.25,107.50C872.71,111.17 873.33,111.88 875.00,113.25C876.67,114.62 879.38,114.21 881.25,115.75C883.12,117.29 884.71,120.54 886.25,122.50C887.79,124.46 889.25,126.58 890.50,127.50C891.75,128.42 892.38,128.83 893.75,128.00C895.12,127.17 897.29,123.54 898.75,122.50C900.21,121.46 901.25,121.67 902.50,121.75C903.75,121.83 904.79,121.21 906.25,123.00C907.71,124.79 909.58,129.96 911.25,132.50C912.92,135.04 914.79,138.25 916.25,138.25C917.71,138.25 918.54,135.75 920.00,132.50C921.46,129.25 923.54,121.79 925.00,118.75C926.46,115.71 927.29,115.08 928.75,114.25C930.21,113.42 932.08,114.67 933.75,113.75C935.42,112.83 937.17,110.21 938.75,108.75C940.33,107.29 941.79,104.79 943.25,105.00C944.71,105.21 945.96,107.58 947.50,110.00C949.04,112.42 951.38,117.83 952.50,119.50C953.62,121.17 953.42,121.79 954.25,120.00C955.08,118.21 956.33,113.12 957.50,108.75C958.67,104.38 960.21,96.75 961.25,93.75C962.29,90.75 962.71,89.92 963.75,90.75C964.79,91.58 966.12,95.96 967.50,98.75C968.88,101.54 970.54,106.88 972.00,107.50C973.46,108.12 974.71,104.25 976.25,102.50C977.79,100.75 979.58,96.58 981.25,97.00C982.92,97.42 984.46,101.79 986.25,105.00C988.04,108.21 990.33,115.00 992.00,116.25C993.67,117.50 995.12,113.25 996.25,112.50C997.38,111.75 997.79,110.50 998.75,111.75C999.71,113.00 1000.75,114.46 1002.00,120.00C1003.25,125.54 1004.92,138.96 1006.25,145.00C1007.58,151.04 1008.96,154.04 1010.00,156.25C1011.04,158.46 1011.25,159.29 1012.50,158.25C1013.75,157.21 1015.83,155.54 1017.50,150.00C1019.17,144.46 1020.83,135.83 1022.50,125.00C1024.17,114.17 1025.62,97.08 1027.50,85.00C1029.38,72.92 1031.96,59.71 1033.75,52.50C1035.54,45.29 1036.79,41.33 1038.25,41.75C1039.71,42.17 1040.96,46.54 1042.50,55.00C1044.04,63.46 1045.83,79.17 1047.50,92.50C1049.17,105.83 1050.83,122.50 1052.50,135.00C1054.17,147.50 1055.83,160.00 1057.50,167.50C1059.17,175.00 1060.92,177.42 1062.50,180.00C1064.08,182.58 1065.33,183.42 1067.00,183.00C1068.67,182.58 1070.75,181.75 1072.50,177.50C1074.25,173.25 1075.83,166.67 1077.50,157.50C1079.17,148.33 1080.92,131.88 1082.50,122.50C1084.08,113.12 1085.67,105.75 1087.00,101.25C1088.33,96.75 1089.17,94.88 1090.50,95.50C1091.83,96.12 1093.21,101.12 1095.00,105.00C1096.79,108.88 1099.38,115.83 1101.25,118.75C1103.12,121.67 1104.58,122.71 1106.25,122.50C1107.92,122.29 1109.58,121.25 1111.25,117.50C1112.92,113.75 1114.58,107.92 1116.25,100.00C1117.92,92.08 1119.67,77.92 1121.25,70.00C1122.83,62.08 1124.42,56.04 1125.75,52.50C1127.08,48.96 1127.92,47.92 1129.25,48.75C1130.58,49.58 1132.17,51.88 1133.75,57.50C1135.33,63.12 1137.08,72.92 1138.75,82.50C1140.42,92.08 1142.29,106.67 1143.75,115.00C1145.21,123.33 1146.46,128.96 1147.50,132.50C1148.54,136.04 1148.75,137.08 1150.00,136.25C1151.25,135.42 1153.33,131.46 1155.00,127.50C1156.67,123.54 1158.54,116.25 1160.00,112.50C1161.46,108.75 1162.58,106.50 1163.75,105.00C1164.92,103.50 1165.75,102.46 1167.00,103.50C1168.25,104.54 1169.71,106.00 1171.25,111.25C1172.79,116.50 1174.88,129.38 1176.25,135.00C1177.62,140.62 1178.54,143.00 1179.50,145.00C1180.46,147.00 1180.88,148.25 1182.00,147.00C1183.12,145.75 1184.92,142.83 1186.25,137.50C1187.58,132.17 1188.75,121.88 1190.00,115.00C1191.25,108.12 1192.29,100.42 1193.75,96.25C1195.21,92.08 1197.08,91.88 1198.75,90.00C1200.42,88.12 1202.29,87.71 1203.75,85.00C1205.21,82.29 1206.25,76.67 1207.50,73.75C1208.75,70.83 1209.92,68.83 1211.25,67.50C1212.58,66.17 1213.83,65.33 1215.50,65.75C1217.17,66.17 1219.25,67.21 1221.25,70.00C1223.25,72.79 1225.54,77.92 1227.50,82.50C1229.46,87.08 1232.08,95.00 1233.00,97.50" fill="none" stroke="#bf6b26" stroke-width="2.3" stroke-linejoin="round" stroke-linecap="butt"/>
<rect x="70.3" y="5.2" width="1273.3" height="341.1" fill="none" stroke="#4a4a4c" stroke-width="1.2"/>
<text transform="translate(66.4,351.3) scale(1.09,1)" text-anchor="end" class="tk">−4</text>
<text transform="translate(66.4,298.1) scale(1.09,1)" text-anchor="end" class="tk">−3</text>
<text transform="translate(66.4,241.2) scale(1.09,1)" text-anchor="end" class="tk">−2</text>
<text transform="translate(66.4,184.4) scale(1.09,1)" text-anchor="end" class="tk">−1</text>
<text transform="translate(66.4,127.5) scale(1.09,1)" text-anchor="end" class="tk">0</text>
<text transform="translate(66.4,70.7) scale(1.09,1)" text-anchor="end" class="tk">1</text>
<text transform="translate(66.4,13.8) scale(1.09,1)" text-anchor="end" class="tk">2</text>
<text transform="translate(70.7,370.9) scale(1.085,1)" text-anchor="middle" class="tk">1000</text>
<text transform="translate(186.5,370.9) scale(1.085,1)" text-anchor="middle" class="tk">1100</text>
<text transform="translate(302.2,370.9) scale(1.085,1)" text-anchor="middle" class="tk">1200</text>
<text transform="translate(418.0,370.9) scale(1.085,1)" text-anchor="middle" class="tk">1300</text>
<text transform="translate(533.7,370.9) scale(1.085,1)" text-anchor="middle" class="tk">1400</text>
<text transform="translate(649.5,370.9) scale(1.085,1)" text-anchor="middle" class="tk">1500</text>
<text transform="translate(765.2,370.9) scale(1.085,1)" text-anchor="middle" class="tk">1600</text>
<text transform="translate(881.0,370.9) scale(1.085,1)" text-anchor="middle" class="tk">1700</text>
<text transform="translate(996.7,370.9) scale(1.085,1)" text-anchor="middle" class="tk">1800</text>
<text transform="translate(1112.5,370.9) scale(1.085,1)" text-anchor="middle" class="tk">1900</text>
<text transform="translate(1228.2,370.9) scale(1.085,1)" text-anchor="middle" class="tk">2000</text>
<text transform="translate(1344.0,370.9) scale(1.085,1)" text-anchor="middle" class="tk">2100</text>
<line x1="186.1" y1="723.4" x2="186.1" y2="710.9" stroke="#4a4a4c" stroke-width="1.2"/>
<line x1="186.1" y1="382.0" x2="186.1" y2="394.5" stroke="#4a4a4c" stroke-width="1.2"/>
<line x1="301.8" y1="723.4" x2="301.8" y2="710.9" stroke="#4a4a4c" stroke-width="1.2"/>
<line x1="301.8" y1="382.0" x2="301.8" y2="394.5" stroke="#4a4a4c" stroke-width="1.2"/>
<line x1="417.6" y1="723.4" x2="417.6" y2="710.9" stroke="#4a4a4c" stroke-width="1.2"/>
<line x1="417.6" y1="382.0" x2="417.6" y2="394.5" stroke="#4a4a4c" stroke-width="1.2"/>
<line x1="533.3" y1="723.4" x2="533.3" y2="710.9" stroke="#4a4a4c" stroke-width="1.2"/>
<line x1="533.3" y1="382.0" x2="533.3" y2="394.5" stroke="#4a4a4c" stroke-width="1.2"/>
<line x1="649.1" y1="723.4" x2="649.1" y2="710.9" stroke="#4a4a4c" stroke-width="1.2"/>
<line x1="649.1" y1="382.0" x2="649.1" y2="394.5" stroke="#4a4a4c" stroke-width="1.2"/>
<line x1="764.8" y1="723.4" x2="764.8" y2="710.9" stroke="#4a4a4c" stroke-width="1.2"/>
<line x1="764.8" y1="382.0" x2="764.8" y2="394.5" stroke="#4a4a4c" stroke-width="1.2"/>
<line x1="880.6" y1="723.4" x2="880.6" y2="710.9" stroke="#4a4a4c" stroke-width="1.2"/>
<line x1="880.6" y1="382.0" x2="880.6" y2="394.5" stroke="#4a4a4c" stroke-width="1.2"/>
<line x1="996.3" y1="723.4" x2="996.3" y2="710.9" stroke="#4a4a4c" stroke-width="1.2"/>
<line x1="996.3" y1="382.0" x2="996.3" y2="394.5" stroke="#4a4a4c" stroke-width="1.2"/>
<line x1="1112.1" y1="723.4" x2="1112.1" y2="710.9" stroke="#4a4a4c" stroke-width="1.2"/>
<line x1="1112.1" y1="382.0" x2="1112.1" y2="394.5" stroke="#4a4a4c" stroke-width="1.2"/>
<line x1="1227.8" y1="723.4" x2="1227.8" y2="710.9" stroke="#4a4a4c" stroke-width="1.2"/>
<line x1="1227.8" y1="382.0" x2="1227.8" y2="394.5" stroke="#4a4a4c" stroke-width="1.2"/>
<line x1="70.3" y1="666.5" x2="82.8" y2="666.5" stroke="#4a4a4c" stroke-width="1.2"/>
<line x1="1343.6" y1="666.5" x2="1331.1" y2="666.5" stroke="#4a4a4c" stroke-width="1.2"/>
<line x1="70.3" y1="609.6" x2="82.8" y2="609.6" stroke="#4a4a4c" stroke-width="1.2"/>
<line x1="1343.6" y1="609.6" x2="1331.1" y2="609.6" stroke="#4a4a4c" stroke-width="1.2"/>
<line x1="70.3" y1="552.7" x2="82.8" y2="552.7" stroke="#4a4a4c" stroke-width="1.2"/>
<line x1="1343.6" y1="552.7" x2="1331.1" y2="552.7" stroke="#4a4a4c" stroke-width="1.2"/>
<line x1="70.3" y1="495.8" x2="82.8" y2="495.8" stroke="#4a4a4c" stroke-width="1.2"/>
<line x1="1343.6" y1="495.8" x2="1331.1" y2="495.8" stroke="#4a4a4c" stroke-width="1.2"/>
<line x1="70.3" y1="438.9" x2="82.8" y2="438.9" stroke="#4a4a4c" stroke-width="1.2"/>
<line x1="1343.6" y1="438.9" x2="1331.1" y2="438.9" stroke="#4a4a4c" stroke-width="1.2"/>
<path d="M1054.2,436.7 L1055.4,415.0 L1056.5,396.2 L1057.7,429.9 L1058.8,421.0 L1060.0,428.5 L1061.2,385.4 L1062.3,426.6 L1063.5,402.3 L1064.6,382.0 L1065.8,398.8 L1066.9,405.4 L1068.1,400.2 L1069.3,434.6 L1070.4,450.3 L1071.6,428.2 L1072.7,422.0 L1073.9,427.0 L1075.0,416.9 L1076.2,400.3 L1077.4,432.3 L1078.5,410.0 L1079.7,420.9 L1080.8,423.1 L1082.0,419.8 L1083.2,423.2 L1084.3,385.8 L1085.5,395.9 L1086.6,382.0 L1087.8,438.5 L1088.9,433.0 L1090.1,382.0 L1091.3,382.0 L1092.4,382.0 L1093.6,418.9 L1094.7,413.0 L1095.9,423.7 L1097.0,392.7 L1098.2,384.8 L1099.4,382.0 L1100.5,414.4 L1101.7,415.9 L1102.8,401.6 L1104.0,414.4 L1105.1,437.7 L1106.3,406.1 L1107.5,447.8 L1108.6,431.9 L1109.8,435.1 L1110.9,444.6 L1112.1,413.4 L1113.2,445.8 L1114.4,416.0 L1115.6,421.8 L1116.7,385.5 L1117.9,438.7 L1119.0,416.7 L1120.2,441.4 L1121.4,432.5 L1122.5,423.5 L1123.7,432.3 L1124.8,445.0 L1126.0,412.8 L1127.1,386.1 L1128.3,387.8 L1129.5,412.1 L1130.6,418.5 L1131.8,437.7 L1132.9,405.8 L1134.1,406.8 L1135.2,394.2 L1136.4,397.6 L1137.6,444.7 L1138.7,429.6 L1139.9,449.2 L1141.0,427.2 L1142.2,465.3 L1143.3,463.0 L1144.5,455.5 L1145.7,440.1 L1146.8,472.9 L1148.0,459.3 L1149.1,445.5 L1150.3,440.0 L1151.4,382.0 L1152.6,461.3 L1153.8,451.7 L1154.9,442.5 L1156.1,454.7 L1157.2,465.9 L1158.4,464.8 L1159.6,462.1 L1160.7,445.3 L1161.9,436.2 L1163.0,457.3 L1164.2,473.4 L1165.3,474.3 L1166.5,423.6 L1167.7,474.2 L1168.8,460.5 L1170.0,435.6 L1171.1,438.9 L1172.3,453.5 L1173.4,480.5 L1174.6,490.3 L1175.8,406.4 L1176.9,481.7 L1178.1,467.2 L1179.2,478.6 L1180.4,482.0 L1181.5,477.6 L1182.7,451.8 L1183.9,465.5 L1185.0,407.4 L1186.2,451.5 L1187.3,434.7 L1188.5,432.4 L1189.6,438.2 L1190.8,433.7 L1192.0,426.5 L1193.1,401.9 L1194.3,451.4 L1195.4,410.1 L1196.6,459.3 L1197.7,415.3 L1198.9,432.6 L1200.1,451.4 L1201.2,435.6 L1202.4,444.6 L1203.5,451.2 L1204.7,419.8 L1205.9,421.8 L1207.0,423.4 L1208.2,447.0 L1209.3,426.5 L1210.5,406.9 L1211.6,437.9 L1212.8,450.0 L1214.0,457.2 L1215.1,455.5 L1216.3,437.4 L1217.4,416.9 L1218.6,388.9 L1219.7,468.5 L1220.9,466.3 L1222.1,458.3 L1223.2,486.9 L1224.4,456.6 L1225.5,499.3 L1226.7,495.8 L1227.8,485.7 L1229.0,482.6 L1230.2,499.0 L1231.3,496.1 L1232.5,466.8 L1233.6,501.2 L1234.8,471.9 L1235.9,494.3 L1237.1,499.2 L1238.3,453.6 L1239.4,493.8 L1240.6,464.2 L1241.7,486.7 L1242.9,487.9 L1244.1,461.5 L1245.2,503.4 L1246.4,501.2 L1247.5,457.1 L1248.7,463.2 L1249.8,479.7 L1251.0,464.6 L1252.2,466.9 L1253.3,492.2 L1254.5,463.5 L1255.6,499.1 L1256.8,480.1 L1257.9,494.9 L1259.1,468.4 L1260.3,501.3 L1261.4,508.7 L1262.6,458.4 L1263.7,444.0 L1264.9,518.4 L1266.0,528.9 L1267.2,530.6 L1268.4,513.3 L1269.5,532.7 L1270.7,512.6 L1271.8,534.4 L1273.0,495.8 L1274.1,537.6 L1275.3,541.3 L1276.5,539.0 L1277.6,540.5 L1278.8,532.5 L1279.9,541.2 L1281.1,552.9 L1282.3,524.4 L1283.4,525.4 L1284.6,542.9 L1285.7,541.9 L1286.9,546.3 L1288.0,559.2 L1289.2,470.5 L1290.4,546.3 L1291.5,562.4 L1292.7,541.5 L1293.8,494.3 L1295.0,520.1 L1296.1,565.5 L1297.3,564.7 L1298.5,571.9 L1299.6,557.1 L1300.8,560.6 L1301.9,548.1 L1303.1,518.3 L1304.2,542.3 L1305.4,556.7 L1306.6,529.0 L1307.7,569.1 L1308.9,556.9 L1310.0,507.2 L1311.2,547.0 L1312.3,575.4 L1313.5,580.8 L1314.7,562.5 L1315.8,530.2 L1317.0,543.4 L1318.1,562.7 L1319.3,547.2 L1320.4,557.7 L1321.6,575.0 L1322.8,531.6 L1323.9,531.0 L1325.1,534.8 L1326.2,560.2 L1327.4,558.7 L1328.6,537.3 L1329.7,557.1 L1330.9,556.3 L1332.0,548.5 L1333.2,518.9 L1334.3,579.2 L1335.5,587.9 L1336.7,552.9 L1337.8,530.3 L1339.0,551.3 L1340.1,566.8 L1341.3,532.0 L1342.4,580.5 L1343.6,614.7 L1343.6,723.4 L1342.4,723.4 L1341.3,723.4 L1340.1,723.4 L1339.0,723.4 L1337.8,723.4 L1336.7,721.1 L1335.5,709.9 L1334.3,723.4 L1333.2,723.4 L1332.0,723.4 L1330.9,720.6 L1329.7,705.8 L1328.6,723.4 L1327.4,709.3 L1326.2,689.8 L1325.1,692.5 L1323.9,705.0 L1322.8,683.0 L1321.6,691.0 L1320.4,697.0 L1319.3,686.4 L1318.1,695.8 L1317.0,708.9 L1315.8,723.4 L1314.7,679.4 L1313.5,681.2 L1312.3,691.6 L1311.2,709.7 L1310.0,692.6 L1308.9,702.9 L1307.7,696.1 L1306.6,687.7 L1305.4,723.4 L1304.2,702.5 L1303.1,723.4 L1301.9,701.8 L1300.8,701.4 L1299.6,704.5 L1298.5,715.0 L1297.3,716.3 L1296.1,702.7 L1295.0,705.3 L1293.8,714.0 L1292.7,697.1 L1291.5,719.6 L1290.4,692.6 L1289.2,694.6 L1288.0,717.0 L1286.9,723.4 L1285.7,723.4 L1284.6,684.4 L1283.4,686.5 L1282.3,654.8 L1281.1,653.1 L1279.9,696.7 L1278.8,658.6 L1277.6,675.5 L1276.5,645.8 L1275.3,689.2 L1274.1,641.1 L1273.0,672.1 L1271.8,665.8 L1270.7,688.0 L1269.5,666.6 L1268.4,651.0 L1267.2,649.1 L1266.0,699.5 L1264.9,618.0 L1263.7,656.2 L1262.6,667.7 L1261.4,593.4 L1260.3,597.2 L1259.1,642.4 L1257.9,628.4 L1256.8,607.7 L1255.6,649.4 L1254.5,614.1 L1253.3,648.3 L1252.2,721.7 L1251.0,616.3 L1249.8,622.2 L1248.7,623.8 L1247.5,649.6 L1246.4,622.6 L1245.2,600.2 L1244.1,615.0 L1242.9,601.1 L1241.7,700.7 L1240.6,606.8 L1239.4,611.4 L1238.3,635.6 L1237.1,611.1 L1235.9,628.5 L1234.8,623.8 L1233.6,636.5 L1232.5,612.8 L1231.3,608.8 L1230.2,599.7 L1229.0,609.2 L1227.8,609.7 L1226.7,600.6 L1225.5,588.8 L1224.4,606.3 L1223.2,603.0 L1222.1,606.0 L1220.9,623.1 L1219.7,579.8 L1218.6,581.6 L1217.4,591.0 L1216.3,569.7 L1215.1,573.6 L1214.0,562.9 L1212.8,593.0 L1211.6,574.8 L1210.5,544.9 L1209.3,576.2 L1208.2,589.9 L1207.0,538.4 L1205.9,561.1 L1204.7,533.7 L1203.5,567.8 L1202.4,567.0 L1201.2,558.7 L1200.1,551.3 L1198.9,535.0 L1197.7,547.7 L1196.6,561.1 L1195.4,585.6 L1194.3,544.7 L1193.1,573.9 L1192.0,549.6 L1190.8,547.9 L1189.6,571.7 L1188.5,540.8 L1187.3,580.2 L1186.2,586.6 L1185.0,565.7 L1183.9,555.3 L1182.7,542.3 L1181.5,556.8 L1180.4,548.7 L1179.2,563.0 L1178.1,665.2 L1176.9,598.2 L1175.8,568.3 L1174.6,577.5 L1173.4,578.0 L1172.3,575.4 L1171.1,562.7 L1170.0,604.3 L1168.8,573.8 L1167.7,590.8 L1166.5,549.9 L1165.3,549.9 L1164.2,552.1 L1163.0,630.8 L1161.9,555.4 L1160.7,577.4 L1159.6,578.9 L1158.4,592.3 L1157.2,564.6 L1156.1,557.4 L1154.9,576.5 L1153.8,533.1 L1152.6,588.3 L1151.4,543.0 L1150.3,594.0 L1149.1,543.0 L1148.0,569.0 L1146.8,575.1 L1145.7,545.3 L1144.5,560.2 L1143.3,588.5 L1142.2,555.5 L1141.0,553.4 L1139.9,569.7 L1138.7,553.6 L1137.6,564.8 L1136.4,528.4 L1135.2,531.6 L1134.1,529.6 L1132.9,533.6 L1131.8,539.7 L1130.6,539.4 L1129.5,579.6 L1128.3,574.5 L1127.1,539.1 L1126.0,579.2 L1124.8,544.3 L1123.7,587.7 L1122.5,543.6 L1121.4,535.0 L1120.2,545.5 L1119.0,532.3 L1117.9,545.2 L1116.7,586.7 L1115.6,541.7 L1114.4,537.3 L1113.2,555.5 L1112.1,577.4 L1110.9,560.1 L1109.8,567.4 L1108.6,556.8 L1107.5,556.2 L1106.3,577.6 L1105.1,544.6 L1104.0,547.7 L1102.8,553.2 L1101.7,542.7 L1100.5,571.0 L1099.4,541.4 L1098.2,570.3 L1097.0,521.6 L1095.9,536.2 L1094.7,541.6 L1093.6,586.1 L1092.4,518.7 L1091.3,526.8 L1090.1,539.3 L1088.9,560.4 L1087.8,537.0 L1086.6,551.3 L1085.5,568.3 L1084.3,557.0 L1083.2,576.6 L1082.0,554.6 L1080.8,553.8 L1079.7,551.0 L1078.5,536.8 L1077.4,568.4 L1076.2,555.5 L1075.0,555.9 L1073.9,555.8 L1072.7,550.9 L1071.6,556.9 L1070.4,578.4 L1069.3,586.1 L1068.1,546.9 L1066.9,542.2 L1065.8,522.1 L1064.6,543.4 L1063.5,521.1 L1062.3,533.5 L1061.2,533.5 L1060.0,538.4 L1058.8,556.9 L1057.7,546.3 L1056.5,590.6 L1055.4,547.5 L1054.2,555.6Z" fill="#d3d4d6" stroke="#d3d4d6" stroke-width="0.6" stroke-linejoin="miter"/>
<line x1="70.3" y1="495.8" x2="1343.6" y2="495.8" stroke="#6a6b6e" stroke-width="1.5" stroke-dasharray="4.3,4.365"/>
<path d="M1054.2,490.2 L1055.4,520.7 L1056.5,506.2 L1057.7,519.4 L1058.8,534.5 L1060.0,526.3 L1061.2,508.5 L1062.3,495.3 L1063.5,464.7 L1064.6,473.1 L1065.8,484.4 L1066.9,494.5 L1068.1,509.1 L1069.3,518.8 L1070.4,505.4 L1071.6,531.8 L1072.7,533.4 L1073.9,521.4 L1075.0,497.4 L1076.2,491.7 L1077.4,482.7 L1078.5,488.1 L1079.7,489.6 L1080.8,505.0 L1082.0,514.2 L1083.2,514.8 L1084.3,508.9 L1085.5,518.3 L1086.6,505.0 L1087.8,482.8 L1088.9,488.0 L1090.1,483.8 L1091.3,484.3 L1092.4,460.3 L1093.6,472.2 L1094.7,496.6 L1095.9,504.6 L1097.0,512.4 L1098.2,497.0 L1099.4,480.7 L1100.5,489.5 L1101.7,494.1 L1102.8,535.2 L1104.0,526.3 L1105.1,540.0 L1106.3,512.3 L1107.5,500.4 L1108.6,498.0 L1109.8,492.9 L1110.9,509.6 L1112.1,516.0 L1113.2,505.1 L1114.4,491.6 L1115.6,483.1 L1116.7,495.2 L1117.9,500.9 L1119.0,506.6 L1120.2,524.1 L1121.4,499.7 L1122.5,524.3 L1123.7,497.3 L1124.8,495.5 L1126.0,497.6 L1127.1,495.1 L1128.3,502.1 L1129.5,497.4 L1130.6,501.5 L1131.8,524.3 L1132.9,492.2 L1134.1,498.5 L1135.2,460.0 L1136.4,514.5 L1137.6,501.7 L1138.7,491.6 L1139.9,494.1 L1141.0,510.8 L1142.2,516.6 L1143.3,501.9 L1144.5,509.3 L1145.7,515.3 L1146.8,528.4 L1148.0,524.2 L1149.1,501.8 L1150.3,499.6 L1151.4,515.8 L1152.6,490.4 L1153.8,495.4 L1154.9,492.1 L1156.1,502.4 L1157.2,511.6 L1158.4,518.2 L1159.6,512.2 L1160.7,499.9 L1161.9,520.1 L1163.0,518.4 L1164.2,532.4 L1165.3,522.1 L1166.5,491.9 L1167.7,504.8 L1168.8,508.2 L1170.0,517.0 L1171.1,504.6 L1172.3,512.8 L1173.4,535.5 L1174.6,540.7 L1175.8,559.1 L1176.9,520.9 L1178.1,507.8 L1179.2,517.7 L1180.4,533.3 L1181.5,496.5 L1182.7,494.2 L1183.9,489.0 L1185.0,494.5 L1186.2,482.7 L1187.3,472.9 L1188.5,485.2 L1189.6,493.4 L1190.8,498.6 L1192.0,487.6 L1193.1,498.5 L1194.3,499.7 L1195.4,483.0 L1196.6,495.2 L1197.7,476.5 L1198.9,497.9 L1200.1,512.1 L1201.2,492.9 L1202.4,460.6 L1203.5,477.4 L1204.7,517.0 L1205.9,500.4 L1207.0,476.8 L1208.2,464.4 L1209.3,478.6 L1210.5,512.1 L1211.6,503.8 L1212.8,486.9 L1214.0,487.8 L1215.1,481.7 L1216.3,499.1 L1217.4,489.8 L1218.6,462.3 L1219.7,497.9 L1220.9,503.0 L1222.1,504.6 L1223.2,517.4 L1224.4,515.8 L1225.5,524.0 L1226.7,543.3 L1227.8,534.8 L1229.0,535.5 L1230.2,527.0 L1231.3,527.3 L1232.5,533.2 L1233.6,541.9 L1234.8,525.0 L1235.9,519.2 L1237.1,530.9 L1238.3,543.7 L1239.4,536.2 L1240.6,542.7 L1241.7,546.1 L1242.9,555.0 L1244.1,540.9 L1245.2,508.0 L1246.4,505.7 L1247.5,525.9 L1248.7,554.6 L1249.8,559.2 L1251.0,560.7 L1252.2,558.6 L1253.3,544.4 L1254.5,541.6 L1255.6,509.6 L1256.8,501.2 L1257.9,501.6 L1259.1,524.6 L1260.3,547.1 L1261.4,542.2 L1262.6,556.2 L1263.7,551.9 L1264.9,548.5 L1266.0,551.4 L1267.2,572.6 L1268.4,603.3 L1269.5,569.9 L1270.7,588.8 L1271.8,571.8 L1273.0,578.4 L1274.1,599.7 L1275.3,583.4 L1276.5,580.6 L1277.6,581.2 L1278.8,597.8 L1279.9,574.1 L1281.1,557.5 L1282.3,579.2 L1283.4,606.5 L1284.6,604.5 L1285.7,586.0 L1286.9,585.1 L1288.0,579.2 L1289.2,606.5 L1290.4,617.0 L1291.5,625.8 L1292.7,632.2 L1293.8,632.0 L1295.0,610.1 L1296.1,605.5 L1297.3,615.8 L1298.5,632.7 L1299.6,627.8 L1300.8,625.1 L1301.9,630.7 L1303.1,610.6 L1304.2,616.5 L1305.4,610.2 L1306.6,616.6 L1307.7,604.3 L1308.9,615.9 L1310.0,633.8 L1311.2,640.6 L1312.3,636.5 L1313.5,630.2 L1314.7,613.7 L1315.8,632.6 L1317.0,645.6 L1318.1,638.7 L1319.3,618.0 L1320.4,656.7 L1321.6,655.6 L1322.8,636.5 L1323.9,638.2 L1325.1,634.8 L1326.2,651.3 L1327.4,642.2 L1328.6,614.1 L1329.7,639.4 L1330.9,674.2 L1332.0,665.5 L1333.2,652.4 L1334.3,637.0 L1335.5,614.0 L1336.7,651.4 L1337.8,678.7 L1339.0,646.1 L1340.1,661.4 L1341.3,666.0 L1342.4,687.7 L1343.6,693.6" fill="none" stroke="#e0524f" stroke-width="1.25" stroke-linejoin="round"/>
<path d="M1054.2,473.5 L1055.4,494.7 L1056.5,481.9 L1057.7,489.1 L1058.8,495.7 L1060.0,474.1 L1061.2,466.4 L1062.3,447.5 L1063.5,459.5 L1064.6,472.1 L1065.8,473.2 L1066.9,480.5 L1068.1,477.9 L1069.3,502.5 L1070.4,502.0 L1071.6,503.8 L1072.7,493.2 L1073.9,487.8 L1075.0,473.9 L1076.2,475.5 L1077.4,472.6 L1078.5,477.6 L1079.7,474.9 L1080.8,490.6 L1082.0,475.0 L1083.2,482.7 L1084.3,484.4 L1085.5,471.2 L1086.6,481.8 L1087.8,478.9 L1088.9,470.2 L1090.1,483.2 L1091.3,483.3 L1092.4,484.5 L1093.6,472.4 L1094.7,458.1 L1095.9,460.6 L1097.0,458.8 L1098.2,470.4 L1099.4,457.4 L1100.5,426.1 L1101.7,438.0 L1102.8,457.5 L1104.0,478.5 L1105.1,488.2 L1106.3,487.1 L1107.5,481.3 L1108.6,488.5 L1109.8,473.5 L1110.9,488.3 L1112.1,489.4 L1113.2,490.3 L1114.4,484.9 L1115.6,470.4 L1116.7,464.4 L1117.9,456.4 L1119.0,475.5 L1120.2,486.8 L1121.4,492.9 L1122.5,489.2 L1123.7,469.8 L1124.8,477.5 L1126.0,472.5 L1127.1,463.2 L1128.3,469.9 L1129.5,467.5 L1130.6,464.0 L1131.8,480.1 L1132.9,483.1 L1134.1,473.9 L1135.2,458.2 L1136.4,479.2 L1137.6,492.3 L1138.7,489.3 L1139.9,504.7 L1141.0,498.2 L1142.2,494.9 L1143.3,500.0 L1144.5,514.2 L1145.7,513.2 L1146.8,506.2 L1148.0,513.4 L1149.1,512.8 L1150.3,503.5 L1151.4,501.9 L1152.6,493.9 L1153.8,501.2 L1154.9,492.0 L1156.1,503.5 L1157.2,481.0 L1158.4,506.2 L1159.6,494.6 L1160.7,513.2 L1161.9,512.8 L1163.0,508.1 L1164.2,517.7 L1165.3,503.1 L1166.5,499.0 L1167.7,495.7 L1168.8,510.2 L1170.0,508.2 L1171.1,513.6 L1172.3,515.1 L1173.4,535.4 L1174.6,536.4 L1175.8,536.2 L1176.9,527.8 L1178.1,524.3 L1179.2,534.1 L1180.4,531.4 L1181.5,498.0 L1182.7,497.4 L1183.9,489.2 L1185.0,491.7 L1186.2,478.4 L1187.3,478.2 L1188.5,489.4 L1189.6,488.8 L1190.8,497.2 L1192.0,476.6 L1193.1,501.4 L1194.3,502.2 L1195.4,486.0 L1196.6,502.3 L1197.7,480.3 L1198.9,496.4 L1200.1,512.4 L1201.2,504.9 L1202.4,502.1 L1203.5,492.6 L1204.7,493.4 L1205.9,487.9 L1207.0,488.1 L1208.2,476.0 L1209.3,479.5 L1210.5,486.1 L1211.6,511.2 L1212.8,503.3 L1214.0,506.4 L1215.1,518.8 L1216.3,535.1 L1217.4,520.0 L1218.6,529.8 L1219.7,534.0 L1220.9,521.9 L1222.1,532.5 L1223.2,544.7 L1224.4,557.7 L1225.5,554.4 L1226.7,542.7 L1227.8,555.0 L1229.0,570.5 L1230.2,552.9 L1231.3,553.8 L1232.5,553.1 L1233.6,539.5 L1234.8,546.8 L1235.9,538.3 L1237.1,545.8 L1238.3,542.7 L1239.4,553.6 L1240.6,567.7 L1241.7,575.5 L1242.9,570.1 L1244.1,559.0 L1245.2,546.7 L1246.4,537.5 L1247.5,555.3 L1248.7,553.0 L1249.8,567.1 L1251.0,583.7 L1252.2,566.9 L1253.3,575.6 L1254.5,562.5 L1255.6,555.8 L1256.8,539.7 L1257.9,518.2 L1259.1,549.7 L1260.3,536.8 L1261.4,545.5 L1262.6,558.1 L1263.7,563.2 L1264.9,567.3 L1266.0,568.7 L1267.2,585.2 L1268.4,604.8 L1269.5,608.5 L1270.7,613.4 L1271.8,582.8 L1273.0,597.4 L1274.1,581.6 L1275.3,588.9 L1276.5,592.8 L1277.6,578.9 L1278.8,590.2 L1279.9,580.3 L1281.1,592.5 L1282.3,621.8 L1283.4,618.9 L1284.6,642.0 L1285.7,587.8 L1286.9,589.8 L1288.0,591.1 L1289.2,596.8 L1290.4,607.4 L1291.5,610.6 L1292.7,599.9 L1293.8,582.2 L1295.0,608.8 L1296.1,621.0 L1297.3,612.1 L1298.5,606.9 L1299.6,606.3 L1300.8,603.7 L1301.9,604.5 L1303.1,563.7 L1304.2,603.9 L1305.4,617.9 L1306.6,601.1 L1307.7,606.9 L1308.9,604.5 L1310.0,599.2 L1311.2,615.1 L1312.3,625.7 L1313.5,625.5 L1314.7,618.2 L1315.8,621.0 L1317.0,630.8 L1318.1,629.9 L1319.3,617.7 L1320.4,614.2 L1321.6,635.7 L1322.8,638.7 L1323.9,597.6 L1325.1,591.8 L1326.2,577.8 L1327.4,608.3 L1328.6,612.9 L1329.7,614.1 L1330.9,627.2 L1332.0,632.3 L1333.2,634.1 L1334.3,616.0 L1335.5,592.5 L1336.7,640.9 L1337.8,641.8 L1339.0,624.2 L1340.1,630.6 L1341.3,648.8 L1342.4,628.1 L1343.6,701.3" fill="none" stroke="#84c441" stroke-width="1.25" stroke-linejoin="round"/>
<path d="M1054.2,450.5 L1055.4,490.2 L1056.5,484.9 L1057.7,478.4 L1058.8,488.4 L1060.0,465.6 L1061.2,455.4 L1062.3,444.7 L1063.5,436.7 L1064.6,449.6 L1065.8,455.0 L1066.9,475.2 L1068.1,477.5 L1069.3,490.2 L1070.4,490.6 L1071.6,492.6 L1072.7,489.9 L1073.9,473.9 L1075.0,459.2 L1076.2,450.8 L1077.4,438.6 L1078.5,466.2 L1079.7,483.8 L1080.8,478.3 L1082.0,456.4 L1083.2,480.0 L1084.3,470.7 L1085.5,464.4 L1086.6,482.1 L1087.8,462.3 L1088.9,451.2 L1090.1,460.1 L1091.3,471.6 L1092.4,477.6 L1093.6,440.7 L1094.7,445.8 L1095.9,453.5 L1097.0,457.8 L1098.2,469.9 L1099.4,439.9 L1100.5,427.9 L1101.7,420.4 L1102.8,452.5 L1104.0,478.5 L1105.1,490.8 L1106.3,481.6 L1107.5,471.4 L1108.6,477.9 L1109.8,465.5 L1110.9,482.2 L1112.1,488.7 L1113.2,478.3 L1114.4,474.4 L1115.6,467.7 L1116.7,449.3 L1117.9,443.2 L1119.0,456.2 L1120.2,491.2 L1121.4,495.9 L1122.5,483.4 L1123.7,464.6 L1124.8,471.2 L1126.0,465.3 L1127.1,455.2 L1128.3,464.9 L1129.5,451.8 L1130.6,477.4 L1131.8,484.4 L1132.9,483.1 L1134.1,465.5 L1135.2,443.7 L1136.4,485.4 L1137.6,484.8 L1138.7,480.6 L1139.9,484.8 L1141.0,491.7 L1142.2,498.3 L1143.3,483.2 L1144.5,502.0 L1145.7,507.4 L1146.8,510.3 L1148.0,506.2 L1149.1,495.2 L1150.3,492.2 L1151.4,512.0 L1152.6,489.2 L1153.8,484.5 L1154.9,486.2 L1156.1,506.6 L1157.2,497.0 L1158.4,497.3 L1159.6,510.6 L1160.7,497.8 L1161.9,512.7 L1163.0,496.1 L1164.2,524.7 L1165.3,503.2 L1166.5,487.9 L1167.7,505.8 L1168.8,509.1 L1170.0,504.6 L1171.1,516.5 L1172.3,503.5 L1173.4,533.3 L1174.6,547.3 L1175.8,546.6 L1176.9,532.6 L1178.1,510.6 L1179.2,530.0 L1180.4,537.6 L1181.5,494.2 L1182.7,491.8 L1183.9,488.1 L1185.0,487.1 L1186.2,482.2 L1187.3,476.3 L1188.5,481.9 L1189.6,489.7 L1190.8,494.8 L1192.0,484.9 L1193.1,507.4 L1194.3,502.4 L1195.4,480.6 L1196.6,499.1 L1197.7,473.3 L1198.9,493.7 L1200.1,510.4 L1201.2,504.1 L1202.4,491.5 L1203.5,511.7 L1204.7,493.2 L1205.9,497.6 L1207.0,471.6 L1208.2,461.1 L1209.3,483.2 L1210.5,486.5 L1211.6,517.2 L1212.8,512.7 L1214.0,499.7 L1215.1,512.5 L1216.3,545.6 L1217.4,546.8 L1218.6,510.8 L1219.7,522.1 L1220.9,529.6 L1222.1,540.3 L1223.2,525.8 L1224.4,564.9 L1225.5,550.3 L1226.7,544.9 L1227.8,555.2 L1229.0,560.2 L1230.2,552.4 L1231.3,557.8 L1232.5,556.8 L1233.6,544.2 L1234.8,535.8 L1235.9,535.0 L1237.1,546.9 L1238.3,550.0 L1239.4,550.0 L1240.6,558.9 L1241.7,590.2 L1242.9,583.7 L1244.1,562.2 L1245.2,545.2 L1246.4,529.1 L1247.5,551.9 L1248.7,561.9 L1249.8,571.6 L1251.0,589.1 L1252.2,584.8 L1253.3,584.9 L1254.5,567.8 L1255.6,548.7 L1256.8,543.0 L1257.9,513.9 L1259.1,547.8 L1260.3,543.2 L1261.4,548.8 L1262.6,577.3 L1263.7,560.1 L1264.9,579.3 L1266.0,580.9 L1267.2,590.9 L1268.4,614.6 L1269.5,614.5 L1270.7,617.7 L1271.8,581.0 L1273.0,592.8 L1274.1,586.3 L1275.3,604.9 L1276.5,590.1 L1277.6,590.5 L1278.8,596.5 L1279.9,584.9 L1281.1,600.2 L1282.3,620.4 L1283.4,621.7 L1284.6,647.6 L1285.7,638.0 L1286.9,624.2 L1288.0,641.6 L1289.2,653.7 L1290.4,666.0 L1291.5,673.6 L1292.7,677.8 L1293.8,664.7 L1295.0,647.6 L1296.1,657.7 L1297.3,658.9 L1298.5,667.7 L1299.6,662.7 L1300.8,665.3 L1301.9,668.7 L1303.1,664.9 L1304.2,656.8 L1305.4,642.9 L1306.6,667.1 L1307.7,675.4 L1308.9,662.2 L1310.0,661.7 L1311.2,640.9 L1312.3,645.6 L1313.5,671.8 L1314.7,642.6 L1315.8,649.5 L1317.0,674.5 L1318.1,664.6 L1319.3,646.3 L1320.4,676.8 L1321.6,673.9 L1322.8,664.9 L1323.9,652.6 L1325.1,650.9 L1326.2,637.3 L1327.4,649.6 L1328.6,681.6 L1329.7,699.6 L1330.9,696.7 L1332.0,692.9 L1333.2,705.8 L1334.3,664.5 L1335.5,669.9 L1336.7,687.4 L1337.8,684.9 L1339.0,688.4 L1340.1,691.3 L1341.3,709.2 L1342.4,714.4 L1343.6,712.6" fill="none" stroke="#0d9bcc" stroke-width="1.25" stroke-linejoin="round"/>
<path d="M70.00,566.25C70.62,562.29 72.29,550.62 73.75,542.50C75.21,534.38 76.88,524.58 78.75,517.50C80.62,510.42 82.92,504.38 85.00,500.00C87.08,495.62 89.38,493.17 91.25,491.25C93.12,489.33 95.00,488.79 96.25,488.50C97.50,488.21 97.71,487.17 98.75,489.50C99.79,491.83 101.04,495.33 102.50,502.50C103.96,509.67 106.04,525.21 107.50,532.50C108.96,539.79 110.08,543.33 111.25,546.25C112.42,549.17 113.25,550.62 114.50,550.00C115.75,549.38 117.21,548.75 118.75,542.50C120.29,536.25 122.08,523.75 123.75,512.50C125.42,501.25 127.29,483.96 128.75,475.00C130.21,466.04 131.46,461.96 132.50,458.75C133.54,455.54 133.96,455.12 135.00,455.75C136.04,456.38 137.29,459.08 138.75,462.50C140.21,465.92 142.17,473.25 143.75,476.25C145.33,479.25 146.79,480.71 148.25,480.50C149.71,480.29 150.75,478.83 152.50,475.00C154.25,471.17 157.00,461.58 158.75,457.50C160.50,453.42 161.83,451.79 163.00,450.50C164.17,449.21 164.67,448.58 165.75,449.75C166.83,450.92 168.17,452.46 169.50,457.50C170.83,462.54 172.21,471.67 173.75,480.00C175.29,488.33 177.38,501.46 178.75,507.50C180.12,513.54 181.12,514.67 182.00,516.25C182.88,517.83 183.08,518.04 184.00,517.00C184.92,515.96 186.08,515.75 187.50,510.00C188.92,504.25 190.83,491.25 192.50,482.50C194.17,473.75 196.04,463.04 197.50,457.50C198.96,451.96 200.25,450.79 201.25,449.25C202.25,447.71 202.54,447.29 203.50,448.25C204.46,449.21 205.71,450.12 207.00,455.00C208.29,459.88 209.71,468.75 211.25,477.50C212.79,486.25 214.58,498.54 216.25,507.50C217.92,516.46 219.58,524.58 221.25,531.25C222.92,537.92 224.58,543.12 226.25,547.50C227.92,551.88 229.58,553.96 231.25,557.50C232.92,561.04 234.88,566.54 236.25,568.75C237.62,570.96 238.25,571.38 239.50,570.75C240.75,570.12 242.21,569.29 243.75,565.00C245.29,560.71 247.08,552.92 248.75,545.00C250.42,537.08 252.08,525.62 253.75,517.50C255.42,509.38 257.21,500.71 258.75,496.25C260.29,491.79 261.54,490.75 263.00,490.75C264.46,490.75 265.92,492.83 267.50,496.25C269.08,499.67 271.04,507.21 272.50,511.25C273.96,515.29 275.29,518.79 276.25,520.50C277.21,522.21 277.21,522.83 278.25,521.50C279.29,520.17 280.96,518.58 282.50,512.50C284.04,506.42 285.62,494.17 287.50,485.00C289.38,475.83 291.88,464.50 293.75,457.50C295.62,450.50 297.42,445.79 298.75,443.00C300.08,440.21 300.71,440.21 301.75,440.75C302.79,441.29 303.83,441.79 305.00,446.25C306.17,450.71 307.29,458.54 308.75,467.50C310.21,476.46 312.08,491.46 313.75,500.00C315.42,508.54 317.08,514.38 318.75,518.75C320.42,523.12 322.50,524.75 323.75,526.25C325.00,527.75 325.00,528.79 326.25,527.75C327.50,526.71 329.58,524.21 331.25,520.00C332.92,515.79 334.79,507.29 336.25,502.50C337.71,497.71 338.96,493.42 340.00,491.25C341.04,489.08 341.46,488.88 342.50,489.50C343.54,490.12 344.79,492.21 346.25,495.00C347.71,497.79 349.38,502.29 351.25,506.25C353.12,510.21 355.62,516.00 357.50,518.75C359.38,521.50 360.83,522.96 362.50,522.75C364.17,522.54 365.83,521.08 367.50,517.50C369.17,513.92 371.04,505.00 372.50,501.25C373.96,497.50 375.21,496.21 376.25,495.00C377.29,493.79 377.71,493.17 378.75,494.00C379.79,494.83 381.04,495.25 382.50,500.00C383.96,504.75 385.83,515.00 387.50,522.50C389.17,530.00 391.04,539.17 392.50,545.00C393.96,550.83 395.00,554.71 396.25,557.50C397.50,560.29 398.54,562.58 400.00,561.75C401.46,560.92 403.33,558.62 405.00,552.50C406.67,546.38 408.33,535.83 410.00,525.00C411.67,514.17 413.33,500.21 415.00,487.50C416.67,474.79 418.54,457.50 420.00,448.75C421.46,440.00 422.50,438.33 423.75,435.00C425.00,431.67 426.54,429.92 427.50,428.75C428.46,427.58 428.46,427.17 429.50,428.00C430.54,428.83 432.50,432.25 433.75,433.75C435.00,435.25 435.75,437.42 437.00,437.00C438.25,436.58 439.71,433.38 441.25,431.25C442.79,429.12 444.71,425.62 446.25,424.25C447.79,422.88 449.04,422.67 450.50,423.00C451.96,423.33 453.62,423.42 455.00,426.25C456.38,429.08 457.50,434.17 458.75,440.00C460.00,445.83 461.25,455.21 462.50,461.25C463.75,467.29 464.79,471.67 466.25,476.25C467.71,480.83 469.58,485.50 471.25,488.75C472.92,492.00 474.88,494.29 476.25,495.75C477.62,497.21 478.25,497.62 479.50,497.50C480.75,497.38 482.21,496.58 483.75,495.00C485.29,493.42 487.08,489.75 488.75,488.00C490.42,486.25 492.29,485.62 493.75,484.50C495.21,483.38 496.04,483.88 497.50,481.25C498.96,478.62 501.04,472.21 502.50,468.75C503.96,465.29 505.08,462.12 506.25,460.50C507.42,458.88 508.46,458.25 509.50,459.00C510.54,459.75 511.17,461.08 512.50,465.00C513.83,468.92 515.62,477.08 517.50,482.50C519.38,487.92 521.67,492.92 523.75,497.50C525.83,502.08 528.33,507.42 530.00,510.00C531.67,512.58 532.29,513.62 533.75,513.00C535.21,512.38 536.88,509.67 538.75,506.25C540.62,502.83 543.12,497.71 545.00,492.50C546.88,487.29 548.33,480.42 550.00,475.00C551.67,469.58 553.33,463.25 555.00,460.00C556.67,456.75 558.62,456.38 560.00,455.50C561.38,454.62 562.00,454.21 563.25,454.75C564.50,455.29 565.96,454.96 567.50,458.75C569.04,462.54 570.83,470.21 572.50,477.50C574.17,484.79 575.83,494.58 577.50,502.50C579.17,510.42 580.83,519.38 582.50,525.00C584.17,530.62 586.04,533.96 587.50,536.25C588.96,538.54 589.79,539.38 591.25,538.75C592.71,538.12 594.58,535.21 596.25,532.50C597.92,529.79 599.58,525.00 601.25,522.50C602.92,520.00 604.58,518.25 606.25,517.50C607.92,516.75 609.79,518.83 611.25,518.00C612.71,517.17 613.54,516.54 615.00,512.50C616.46,508.46 618.33,500.83 620.00,493.75C621.67,486.67 623.33,476.25 625.00,470.00C626.67,463.75 628.67,458.96 630.00,456.25C631.33,453.54 631.96,453.33 633.00,453.75C634.04,454.17 634.88,454.38 636.25,458.75C637.62,463.12 639.58,472.92 641.25,480.00C642.92,487.08 644.79,496.46 646.25,501.25C647.71,506.04 649.04,507.38 650.00,508.75C650.96,510.12 650.96,510.54 652.00,509.50C653.04,508.46 654.71,505.96 656.25,502.50C657.79,499.04 659.79,491.88 661.25,488.75C662.71,485.62 663.75,483.75 665.00,483.75C666.25,483.75 667.50,486.67 668.75,488.75C670.00,490.83 671.38,494.58 672.50,496.25C673.62,497.92 674.25,499.17 675.50,498.75C676.75,498.33 678.42,495.33 680.00,493.75C681.58,492.17 683.33,489.46 685.00,489.25C686.67,489.04 688.67,491.75 690.00,492.50C691.33,493.25 691.96,494.38 693.00,493.75C694.04,493.12 694.88,492.29 696.25,488.75C697.62,485.21 699.38,478.33 701.25,472.50C703.12,466.67 705.62,460.00 707.50,453.75C709.38,447.50 711.12,439.58 712.50,435.00C713.88,430.42 714.83,427.88 715.75,426.25C716.67,424.62 717.08,424.00 718.00,425.25C718.92,426.50 720.08,427.96 721.25,433.75C722.42,439.54 723.54,448.96 725.00,460.00C726.46,471.04 728.33,487.92 730.00,500.00C731.67,512.08 733.54,524.58 735.00,532.50C736.46,540.42 737.50,544.25 738.75,547.50C740.00,550.75 741.25,552.42 742.50,552.00C743.75,551.58 744.79,550.33 746.25,545.00C747.71,539.67 749.58,529.17 751.25,520.00C752.92,510.83 754.58,499.17 756.25,490.00C757.92,480.83 759.58,472.50 761.25,465.00C762.92,457.50 764.79,450.42 766.25,445.00C767.71,439.58 768.75,436.67 770.00,432.50C771.25,428.33 772.58,422.75 773.75,420.00C774.92,417.25 775.88,415.79 777.00,416.00C778.12,416.21 779.25,416.42 780.50,421.25C781.75,426.08 783.12,435.21 784.50,445.00C785.88,454.79 787.42,470.83 788.75,480.00C790.08,489.17 791.25,495.21 792.50,500.00C793.75,504.79 795.12,507.08 796.25,508.75C797.38,510.42 798.21,510.83 799.25,510.00C800.29,509.17 801.33,507.92 802.50,503.75C803.67,499.58 805.00,490.62 806.25,485.00C807.50,479.38 808.75,473.33 810.00,470.00C811.25,466.67 812.50,465.54 813.75,465.00C815.00,464.46 816.25,465.92 817.50,466.75C818.75,467.58 820.00,466.96 821.25,470.00C822.50,473.04 823.54,478.33 825.00,485.00C826.46,491.67 828.54,503.96 830.00,510.00C831.46,516.04 832.67,519.08 833.75,521.25C834.83,523.42 835.46,523.62 836.50,523.00C837.54,522.38 838.58,520.71 840.00,517.50C841.42,514.29 843.12,508.33 845.00,503.75C846.88,499.17 849.38,495.62 851.25,490.00C853.12,484.38 854.58,476.67 856.25,470.00C857.92,463.33 859.79,454.17 861.25,450.00C862.71,445.83 863.75,445.50 865.00,445.00C866.25,444.50 867.50,445.54 868.75,447.00C870.00,448.46 871.04,451.17 872.50,453.75C873.96,456.33 875.83,458.96 877.50,462.50C879.17,466.04 880.92,470.62 882.50,475.00C884.08,479.38 885.75,485.75 887.00,488.75C888.25,491.75 888.88,493.62 890.00,493.00C891.12,492.38 892.29,489.46 893.75,485.00C895.21,480.54 897.29,470.50 898.75,466.25C900.21,462.00 901.46,460.71 902.50,459.50C903.54,458.29 903.96,457.67 905.00,459.00C906.04,460.33 907.50,463.17 908.75,467.50C910.00,471.83 911.33,480.21 912.50,485.00C913.67,489.79 914.83,494.08 915.75,496.25C916.67,498.42 916.88,498.62 918.00,498.00C919.12,497.38 920.71,495.29 922.50,492.50C924.29,489.71 926.88,484.17 928.75,481.25C930.62,478.33 932.50,476.17 933.75,475.00C935.00,473.83 935.00,473.62 936.25,474.25C937.50,474.88 939.58,477.46 941.25,478.75C942.92,480.04 944.58,482.21 946.25,482.00C947.92,481.79 949.71,478.67 951.25,477.50C952.79,476.33 954.25,474.58 955.50,475.00C956.75,475.42 957.58,476.25 958.75,480.00C959.92,483.75 961.25,491.46 962.50,497.50C963.75,503.54 965.12,512.08 966.25,516.25C967.38,520.42 968.38,521.33 969.25,522.50C970.12,523.67 970.54,524.08 971.50,523.25C972.46,522.42 973.79,521.38 975.00,517.50C976.21,513.62 977.50,506.67 978.75,500.00C980.00,493.33 981.25,483.96 982.50,477.50C983.75,471.04 985.08,464.79 986.25,461.25C987.42,457.71 988.25,456.04 989.50,456.25C990.75,456.46 992.42,460.00 993.75,462.50C995.08,465.00 996.04,468.12 997.50,471.25C998.96,474.38 1000.83,477.50 1002.50,481.25C1004.17,485.00 1005.83,490.42 1007.50,493.75C1009.17,497.08 1011.04,499.75 1012.50,501.25C1013.96,502.75 1015.00,503.79 1016.25,502.75C1017.50,501.71 1018.54,500.04 1020.00,495.00C1021.46,489.96 1023.33,479.04 1025.00,472.50C1026.67,465.96 1028.67,459.92 1030.00,455.75C1031.33,451.58 1031.96,449.25 1033.00,447.50C1034.04,445.75 1035.00,444.92 1036.25,445.25C1037.50,445.58 1039.04,445.88 1040.50,449.50C1041.96,453.12 1043.42,460.75 1045.00,467.00C1046.58,473.25 1048.54,481.79 1050.00,487.00C1051.46,492.21 1052.79,495.96 1053.75,498.25C1054.71,500.54 1054.92,501.38 1055.75,500.75C1056.58,500.12 1057.62,497.62 1058.75,494.50C1059.88,491.38 1061.25,485.12 1062.50,482.00C1063.75,478.88 1065.00,476.08 1066.25,475.75C1067.50,475.42 1068.54,477.29 1070.00,480.00C1071.46,482.71 1073.33,488.96 1075.00,492.00C1076.67,495.04 1077.50,496.92 1080.00,498.25C1082.50,499.58 1086.67,499.62 1090.00,500.00C1093.33,500.38 1097.50,500.42 1100.00,500.50C1102.50,500.58 1103.54,501.29 1105.00,500.50C1106.46,499.71 1107.50,499.25 1108.75,495.75C1110.00,492.25 1111.25,486.79 1112.50,479.50C1113.75,472.21 1115.00,462.00 1116.25,452.00C1117.50,442.00 1118.75,428.67 1120.00,419.50C1121.25,410.33 1122.71,402.00 1123.75,397.00C1124.79,392.00 1125.50,391.00 1126.25,389.50C1127.00,388.00 1127.42,387.17 1128.25,388.00C1129.08,388.83 1130.12,389.25 1131.25,394.50C1132.38,399.75 1133.75,409.50 1135.00,419.50C1136.25,429.50 1137.50,444.50 1138.75,454.50C1140.00,464.50 1141.25,473.88 1142.50,479.50C1143.75,485.12 1145.42,486.71 1146.25,488.25C1147.08,489.79 1146.67,489.79 1147.50,488.75C1148.33,487.71 1150.00,484.79 1151.25,482.00C1152.50,479.21 1153.75,474.38 1155.00,472.00C1156.25,469.62 1157.50,467.75 1158.75,467.75C1160.00,467.75 1161.04,467.96 1162.50,472.00C1163.96,476.04 1165.83,484.50 1167.50,492.00C1169.17,499.50 1171.04,510.54 1172.50,517.00C1173.96,523.46 1175.21,527.96 1176.25,530.75C1177.29,533.54 1177.71,533.96 1178.75,533.75C1179.79,533.54 1181.04,533.12 1182.50,529.50C1183.96,525.88 1185.83,519.92 1187.50,512.00C1189.17,504.08 1190.83,490.33 1192.50,482.00C1194.17,473.67 1196.04,466.58 1197.50,462.00C1198.96,457.42 1200.00,456.25 1201.25,454.50C1202.50,452.75 1203.88,452.25 1205.00,451.50C1206.12,450.75 1206.75,449.50 1208.00,450.00C1209.25,450.50 1210.92,451.67 1212.50,454.50C1214.08,457.33 1215.83,461.58 1217.50,467.00C1219.17,472.42 1220.83,479.50 1222.50,487.00C1224.17,494.50 1226.04,504.50 1227.50,512.00C1228.96,519.50 1230.21,526.79 1231.25,532.00C1232.29,537.21 1233.33,541.38 1233.75,543.25" fill="none" stroke="#bf6b26" stroke-width="2.3" stroke-linejoin="round" stroke-linecap="butt"/>
<rect x="70.3" y="382.0" width="1273.3" height="341.4" fill="none" stroke="#4a4a4c" stroke-width="1.2"/>
<text transform="translate(66.4,728.4) scale(1.09,1)" text-anchor="end" class="tk">−4</text>
<text transform="translate(66.4,675.1) scale(1.09,1)" text-anchor="end" class="tk">−3</text>
<text transform="translate(66.4,618.2) scale(1.09,1)" text-anchor="end" class="tk">−2</text>
<text transform="translate(66.4,561.3) scale(1.09,1)" text-anchor="end" class="tk">−1</text>
<text transform="translate(66.4,504.4) scale(1.09,1)" text-anchor="end" class="tk">0</text>
<text transform="translate(66.4,447.5) scale(1.09,1)" text-anchor="end" class="tk">1</text>
<text transform="translate(66.4,390.6) scale(1.09,1)" text-anchor="end" class="tk">2</text>
<text transform="translate(70.7,748.0) scale(1.085,1)" text-anchor="middle" class="tk">1000</text>
<text transform="translate(186.5,748.0) scale(1.085,1)" text-anchor="middle" class="tk">1100</text>
<text transform="translate(302.2,748.0) scale(1.085,1)" text-anchor="middle" class="tk">1200</text>
<text transform="translate(418.0,748.0) scale(1.085,1)" text-anchor="middle" class="tk">1300</text>
<text transform="translate(533.7,748.0) scale(1.085,1)" text-anchor="middle" class="tk">1400</text>
<text transform="translate(649.5,748.0) scale(1.085,1)" text-anchor="middle" class="tk">1500</text>
<text transform="translate(765.2,748.0) scale(1.085,1)" text-anchor="middle" class="tk">1600</text>
<text transform="translate(881.0,748.0) scale(1.085,1)" text-anchor="middle" class="tk">1700</text>
<text transform="translate(996.7,748.0) scale(1.085,1)" text-anchor="middle" class="tk">1800</text>
<text transform="translate(1112.5,748.0) scale(1.085,1)" text-anchor="middle" class="tk">1900</text>
<text transform="translate(1228.2,748.0) scale(1.085,1)" text-anchor="middle" class="tk">2000</text>
<text transform="translate(1344.0,748.0) scale(1.085,1)" text-anchor="middle" class="tk">2100</text>
<line x1="548.0" y1="269.4" x2="590.8" y2="269.4" stroke="#e0524f" stroke-width="6.8"/>
<line x1="548.0" y1="299.4" x2="590.8" y2="299.4" stroke="#84c441" stroke-width="6.8"/>
<line x1="727.2" y1="268.5" x2="769.8" y2="268.5" stroke="#0d9bcc" stroke-width="6.8"/>
<line x1="728.0" y1="299.4" x2="770.2" y2="299.4" stroke="#bf6b26" stroke-width="6.8"/>
<text transform="translate(595.4,278.4) scale(1.057,1)" class="lg">PDSI</text>
<text transform="translate(594.8,308.2) scale(1.06,1)" class="lg">SM<tspan dy="-1.7">–</tspan><tspan dy="1.7">30cm</tspan></text>
<text transform="translate(773.6,278.2) scale(1.06,1)" class="lg">SM<tspan dy="-1.7">–</tspan><tspan dy="1.7">2m</tspan></text>
<text transform="translate(774.7,308.2) scale(1.052,1)" class="lg">NADA</text>
<text transform="translate(74.9,325.5) scale(1.03,1)" class="ti">Central Plains</text>
<text transform="translate(77.0,702.5) scale(1.024,1.02)" class="ti">Southwest</text>
<text transform="translate(21.4,350.6) rotate(-90) scale(1.0,1.03)" text-anchor="middle" class="yl">Moisture balance</text>
</svg>
</body></html>
